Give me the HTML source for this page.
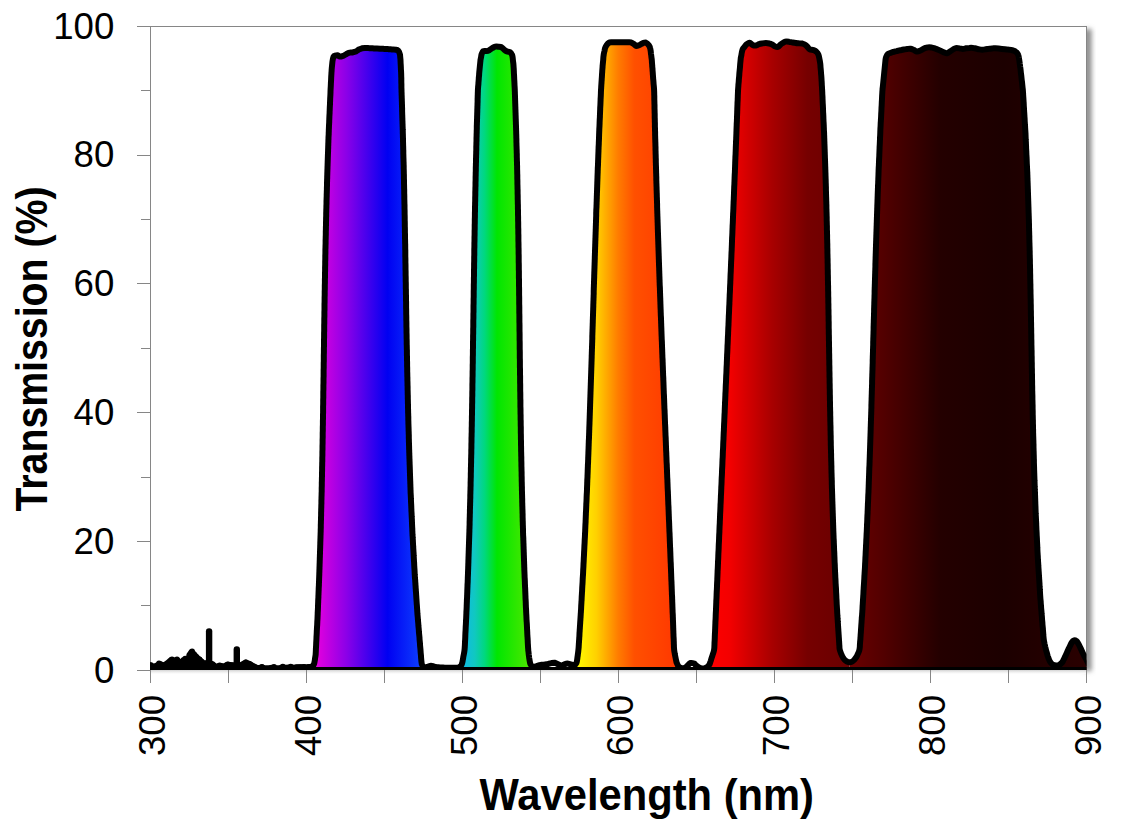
<!DOCTYPE html>
<html><head><meta charset="utf-8"><style>
html,body{margin:0;padding:0;background:#fff;}
svg{display:block;}
text{font-family:"Liberation Sans",sans-serif;}
</style></head><body>
<svg width="1136" height="825" viewBox="0 0 1136 825">
<defs>

<linearGradient id="g1" gradientUnits="userSpaceOnUse" x1="313" y1="0" x2="426" y2="0">
 <stop offset="0" stop-color="#ee00dc"/><stop offset="0.3" stop-color="#8a00e8"/><stop offset="0.66" stop-color="#0000f2"/><stop offset="1" stop-color="#1048ff"/></linearGradient>
<linearGradient id="g2" gradientUnits="userSpaceOnUse" x1="460" y1="0" x2="534" y2="0">
 <stop offset="0" stop-color="#10b8f0"/><stop offset="0.2" stop-color="#10c8c0"/><stop offset="0.33" stop-color="#00d880"/><stop offset="0.5" stop-color="#00e600"/><stop offset="1" stop-color="#58e800"/></linearGradient>
<linearGradient id="g3" gradientUnits="userSpaceOnUse" x1="575" y1="0" x2="683" y2="0">
 <stop offset="0" stop-color="#ffff00"/><stop offset="0.2" stop-color="#ffd000"/><stop offset="0.4" stop-color="#ff7c00"/><stop offset="0.55" stop-color="#ff5000"/><stop offset="1" stop-color="#ff3400"/></linearGradient>
<linearGradient id="g4" gradientUnits="userSpaceOnUse" x1="708" y1="0" x2="850" y2="0">
 <stop offset="0" stop-color="#ff0000"/><stop offset="0.15" stop-color="#f40000"/><stop offset="0.45" stop-color="#a80000"/><stop offset="0.7" stop-color="#760000"/><stop offset="1" stop-color="#680000"/></linearGradient>
<linearGradient id="g5" gradientUnits="userSpaceOnUse" x1="850" y1="0" x2="1086" y2="0">
 <stop offset="0" stop-color="#6a0000"/><stop offset="0.12" stop-color="#560000"/><stop offset="0.38" stop-color="#240000"/><stop offset="0.65" stop-color="#1c0000"/><stop offset="1" stop-color="#2a0000"/></linearGradient>

<linearGradient id="bsh" x1="0" y1="0" x2="0" y2="1"><stop offset="0" stop-color="#d4d4d4"/><stop offset="0.5" stop-color="#eeeeee"/><stop offset="1" stop-color="#ffffff"/></linearGradient>
<clipPath id="pa"><rect x="150" y="26" width="936.5" height="644"/></clipPath>
<filter id="sh" x="-50%" y="-5%" width="200%" height="110%"><feGaussianBlur stdDeviation="2.9"/></filter>
</defs>
<rect x="0" y="0" width="1136" height="825" fill="#fff"/>
<rect x="1083.5" y="29" width="8" height="642" fill="#8a8a8a" filter="url(#sh)"/>
<rect x="150" y="26" width="936.5" height="644" fill="#fff"/>
<rect x="150.5" y="26.5" width="936" height="643" fill="none" stroke="#868686" stroke-width="1"/>
<g clip-path="url(#pa)">
<polygon points="313.0,670.0 314.2,664.0 315.6,655.0 317.7,614.6 319.3,574.3 320.6,533.9 321.6,493.6 322.4,453.2 323.1,412.9 323.6,372.5 324.1,332.1 324.7,291.8 325.4,251.4 326.3,211.1 327.4,170.7 328.8,130.4 330.6,90.0 331.6,70.0 332.5,61.0 333.5,56.0 335.5,54.2 340.0,57.0 344.0,55.5 349.6,52.2 353.5,52.8 357.0,51.0 360.0,48.5 366.0,48.0 373.0,48.3 383.0,48.8 392.0,49.4 397.5,49.8 399.6,52.0 400.5,60.0 401.2,75.0 401.5,90.0 402.8,130.4 403.8,170.7 404.6,211.1 405.3,251.4 405.9,291.8 406.5,332.1 407.3,372.5 408.1,412.9 409.3,453.2 410.7,493.6 412.5,533.9 414.7,574.3 417.5,614.6 420.9,655.0 421.5,663.0 422.8,667.2 426.0,667.5 426.0,670.0" fill="url(#g1)"/>
<polygon points="460.0,670.0 461.8,665.0 462.8,660.0 464.6,650.0 466.5,610.0 468.1,570.0 469.4,530.0 470.5,490.0 471.3,450.0 472.0,410.0 472.7,370.0 473.2,330.0 473.8,290.0 474.3,250.0 475.0,210.0 475.8,170.0 476.7,130.0 477.9,90.0 479.3,72.0 480.5,60.0 481.6,54.0 483.0,50.5 487.5,51.4 491.0,49.0 495.0,46.3 501.7,47.0 505.7,51.4 510.5,51.8 512.3,55.0 513.5,65.0 514.2,78.0 514.8,90.0 516.1,130.0 517.2,170.0 518.0,210.0 518.6,250.0 519.1,290.0 519.5,330.0 520.0,370.0 520.5,410.0 521.1,450.0 521.9,490.0 523.0,530.0 524.3,570.0 526.1,610.0 528.2,650.0 529.5,660.0 530.5,665.0 533.0,667.5 534.0,670.0" fill="url(#g2)"/>
<polygon points="575.0,670.0 576.8,662.0 577.8,655.0 578.5,650.0 581.0,610.0 583.2,570.0 585.2,530.0 587.0,490.0 588.5,450.0 589.9,410.0 591.3,370.0 592.5,330.0 593.8,290.0 595.0,250.0 596.3,210.0 597.8,170.0 599.3,130.0 601.0,90.0 602.3,70.0 603.6,55.0 605.3,47.0 608.5,42.5 614.0,42.2 620.7,42.2 631.8,42.2 634.0,44.0 636.9,46.9 640.0,44.5 645.0,42.2 648.0,43.5 650.3,48.0 651.8,60.0 652.9,75.0 654.1,90.0 655.0,130.0 656.1,170.0 657.2,210.0 658.5,250.0 659.9,290.0 661.4,330.0 662.9,370.0 664.5,410.0 666.1,450.0 667.8,490.0 669.4,530.0 671.0,570.0 672.6,610.0 674.1,650.0 676.0,660.0 677.3,665.0 680.0,668.0 680.0,670.0" fill="url(#g3)"/>
<polygon points="709.0,670.0 709.0,666.0 711.0,660.0 714.2,650.0 716.0,610.0 717.7,570.0 719.4,530.0 721.2,490.0 723.0,450.0 724.7,410.0 726.5,370.0 728.2,330.0 730.0,290.0 731.7,250.0 733.3,210.0 734.9,170.0 736.5,130.0 738.0,90.0 739.5,72.0 740.8,58.0 742.5,49.0 748.7,42.0 754.5,46.3 759.0,44.0 764.7,43.0 770.5,43.5 777.3,47.8 781.0,44.0 786.0,41.2 794.7,43.0 803.4,43.5 807.0,46.0 809.5,49.8 815.5,50.3 818.6,54.5 820.2,63.0 821.3,76.0 822.1,90.0 823.9,130.0 825.4,170.0 826.5,210.0 827.4,250.0 828.1,290.0 828.8,330.0 829.4,370.0 830.1,410.0 830.9,450.0 832.0,490.0 833.3,530.0 835.0,570.0 837.1,610.0 839.6,650.0 842.5,657.0 846.0,661.5 849.6,662.5 849.6,670.0" fill="url(#g4)"/>
<polygon points="849.6,670.0 849.6,662.5 853.0,661.5 856.5,657.0 859.6,650.0 862.4,610.0 864.8,570.0 866.8,530.0 868.5,490.0 870.0,450.0 871.3,410.0 872.5,370.0 873.6,330.0 874.7,290.0 875.8,250.0 877.2,210.0 878.6,170.0 880.4,130.0 882.4,90.0 884.3,72.0 885.5,60.0 886.5,55.0 888.0,53.7 893.0,52.0 899.2,50.5 904.0,49.5 910.4,48.5 914.0,50.0 917.9,52.2 922.0,49.5 927.6,47.0 932.0,47.5 937.3,49.2 942.0,51.5 947.1,53.7 952.0,50.0 956.8,47.5 962.8,49.2 967.0,48.0 971.8,47.7 976.0,48.5 981.5,50.0 987.0,49.0 994.2,48.2 1003.0,49.0 1012.0,50.0 1016.0,51.5 1018.5,55.0 1020.0,65.0 1022.9,90.0 1025.4,132.3 1027.3,174.6 1028.8,216.9 1029.9,259.2 1030.7,301.5 1031.4,343.8 1032.2,386.2 1033.0,428.5 1034.2,470.8 1035.7,513.1 1037.7,555.4 1040.3,597.7 1043.7,640.0 1046.0,650.0 1048.0,657.0 1050.0,662.0 1053.0,665.2 1057.0,665.6 1061.0,664.5 1064.0,659.0 1069.0,648.0 1072.5,641.0 1074.5,639.7 1077.0,641.0 1080.0,647.0 1083.0,653.5 1086.0,659.0 1090.0,667.0 1090.0,670.0" fill="url(#g5)"/>
<polygon points="148.0,672.0 150.0,665.2 152.5,666.5 155.6,667.7 157.5,664.5 159.0,663.3 161.0,664.5 163.1,665.8 166.9,664.0 170.0,660.5 172.0,659.5 174.5,660.8 177.0,659.5 179.0,661.5 179.8,663.3 180.8,668.4 181.6,663.0 182.3,660.8 185.2,658.6 188.3,660.8 189.6,653.9 192.1,651.4 195.0,655.8 198.4,658.9 201.6,661.4 202.8,664.9 204.7,663.3 206.5,663.0 211.5,663.0 213.2,665.0 216.3,668.7 218.0,666.0 219.7,665.3 221.5,666.0 223.7,667.2 226.0,665.0 228.0,664.4 230.0,664.8 232.3,665.7 234.0,665.0 239.5,665.0 241.6,665.7 244.0,663.0 245.9,662.3 248.0,663.0 250.2,664.4 254.5,666.6 257.0,668.7 259.5,667.5 261.9,667.2 264.0,668.0 266.2,668.7 270.0,668.0 273.6,667.5 276.0,668.3 278.5,668.7 281.0,667.2 285.0,667.8 290.0,667.3 295.0,667.7 300.0,667.2 305.0,667.5 310.0,667.0 313.0,666.5 313.0,672.0" fill="#000"/><polyline points="150.3,665.4 153.5,666.9 156.9,665.6 160.0,663.9 163.1,665.5 165.9,664.4 168.5,662.2 171.0,660.0 174.5,660.4 178.0,660.6 179.6,663.1 180.4,666.4 181.7,663.0 183.3,660.1 186.2,659.4 188.9,657.8 189.4,654.9 191.3,652.3 193.8,654.0 195.9,656.6 198.4,658.9 200.8,660.8 202.4,663.7 206.3,663.1 209.5,663.0 212.3,664.0 214.7,666.8 218.3,666.1 221.3,666.0 224.5,666.4 227.0,664.7 230.0,664.9 233.8,665.2 237.3,665.0 240.5,665.3 243.2,663.9 245.9,662.5 249.1,663.7 252.3,665.5 255.3,667.3 258.3,668.1 261.9,667.4 265.1,668.3 268.7,668.2 272.4,667.7 276.0,668.2 279.7,667.9 283.0,667.5 286.0,667.7 289.0,667.4 292.0,667.5 295.0,667.7 298.0,667.4 301.0,667.3 304.0,667.4 307.0,667.3 310.0,667.0 312.7,666.5" fill="none" stroke="#000" stroke-width="6" stroke-linejoin="round" stroke-linecap="round"/>
<g stroke="#000" stroke-width="6.4" stroke-linecap="round"><line x1="209.1" y1="664" x2="209.1" y2="631.4"/><line x1="236.8" y1="664" x2="236.8" y2="649.5"/></g><g stroke="#000" stroke-width="5.8" stroke-linecap="round"><line x1="151.0" y1="667" x2="151.0" y2="665.2"/><line x1="159.0" y1="667" x2="159.0" y2="663.3"/><line x1="163.5" y1="667" x2="163.5" y2="665.5"/><line x1="167.0" y1="667" x2="167.0" y2="664.0"/><line x1="172.0" y1="667" x2="172.0" y2="659.5"/><line x1="177.0" y1="667" x2="177.0" y2="659.5"/><line x1="185.2" y1="667" x2="185.2" y2="658.6"/><line x1="192.1" y1="667" x2="192.1" y2="651.4"/><line x1="196.5" y1="667" x2="196.5" y2="657.0"/><line x1="199.5" y1="667" x2="199.5" y2="659.5"/><line x1="202.0" y1="667" x2="202.0" y2="662.0"/><line x1="205.0" y1="667" x2="205.0" y2="663.3"/><line x1="213.2" y1="667" x2="213.2" y2="665.0"/><line x1="219.7" y1="667" x2="219.7" y2="665.3"/><line x1="224.0" y1="667" x2="224.0" y2="667.0"/><line x1="228.0" y1="667" x2="228.0" y2="664.4"/><line x1="232.0" y1="667" x2="232.0" y2="665.7"/><line x1="241.6" y1="667" x2="241.6" y2="665.7"/><line x1="245.9" y1="667" x2="245.9" y2="662.3"/><line x1="250.2" y1="667" x2="250.2" y2="664.4"/><line x1="254.5" y1="667" x2="254.5" y2="666.6"/><line x1="261.9" y1="667" x2="261.9" y2="667.2"/><line x1="274.0" y1="667" x2="274.0" y2="667.4"/><line x1="282.8" y1="667" x2="282.8" y2="666.7"/><line x1="290.7" y1="667" x2="290.7" y2="666.7"/><line x1="303.9" y1="667" x2="303.9" y2="667.4"/><line x1="309.2" y1="667" x2="309.2" y2="667.0"/></g>
<path d="M296.4,667.2C297.0,667.2 298.9,667.3 300.0,667.3C301.1,667.4 302.0,667.4 303.0,667.4C304.0,667.5 305.0,667.5 306.1,667.5C307.1,667.5 308.3,667.6 309.3,667.5C310.3,667.4 311.5,667.5 312.3,667.0C313.1,666.4 313.6,665.1 314.0,664.1C314.4,663.1 314.5,662.0 314.7,661.0C314.9,660.0 315.0,659.0 315.1,658.0C315.3,657.0 315.5,656.0 315.6,655.0C315.7,654.0 315.7,653.0 315.8,652.0C315.8,651.0 315.9,650.0 315.9,648.9C316.0,647.9 316.0,646.9 316.1,645.9C316.1,644.9 316.2,643.9 316.2,642.9C316.3,641.9 316.3,640.9 316.4,639.9C316.4,638.9 316.5,637.8 316.5,636.8C316.6,635.8 316.6,634.8 316.7,633.8C316.7,632.8 316.8,631.8 316.8,630.8C316.9,629.8 316.9,628.8 317.0,627.8C317.0,626.7 317.1,625.7 317.2,624.7C317.2,623.7 317.3,622.7 317.3,621.7C317.4,620.7 317.4,619.7 317.5,618.7C317.5,617.7 317.6,616.7 317.6,615.7C317.7,614.6 317.7,613.6 317.7,612.6C317.8,611.6 317.8,610.6 317.9,609.6C317.9,608.6 318.0,607.6 318.0,606.6C318.0,605.6 318.1,604.6 318.1,603.5C318.2,602.5 318.2,601.5 318.2,600.5C318.3,599.5 318.3,598.5 318.4,597.5C318.4,596.5 318.4,595.5 318.5,594.5C318.5,593.5 318.6,592.4 318.6,591.4C318.7,590.4 318.7,589.4 318.7,588.4C318.8,587.4 318.8,586.4 318.9,585.4C318.9,584.4 318.9,583.4 319.0,582.4C319.0,581.3 319.1,580.3 319.1,579.3C319.1,578.3 319.2,577.3 319.2,576.3C319.3,575.3 319.3,574.3 319.3,573.3C319.4,572.3 319.4,571.3 319.4,570.2C319.5,569.2 319.5,568.2 319.5,567.2C319.6,566.2 319.6,565.2 319.6,564.2C319.7,563.2 319.7,562.2 319.7,561.2C319.8,560.2 319.8,559.2 319.8,558.1C319.9,557.1 319.9,556.1 319.9,555.1C320.0,554.1 320.0,553.1 320.0,552.1C320.1,551.1 320.1,550.1 320.1,549.1C320.2,548.1 320.2,547.0 320.2,546.0C320.3,545.0 320.3,544.0 320.3,543.0C320.3,542.0 320.4,541.0 320.4,540.0C320.4,539.0 320.5,538.0 320.5,537.0C320.5,535.9 320.6,534.9 320.6,533.9C320.6,532.9 320.7,531.9 320.7,530.9C320.7,529.9 320.7,528.9 320.8,527.9C320.8,526.9 320.8,525.9 320.8,524.8C320.9,523.8 320.9,522.8 320.9,521.8C320.9,520.8 321.0,519.8 321.0,518.8C321.0,517.8 321.0,516.8 321.1,515.8C321.1,514.8 321.1,513.7 321.1,512.7C321.2,511.7 321.2,510.7 321.2,509.7C321.2,508.7 321.3,507.7 321.3,506.7C321.3,505.7 321.3,504.7 321.4,503.7C321.4,502.7 321.4,501.6 321.4,500.6C321.5,499.6 321.5,498.6 321.5,497.6C321.5,496.6 321.6,495.6 321.6,494.6C321.6,493.6 321.6,492.6 321.7,491.6C321.7,490.5 321.7,489.5 321.7,488.5C321.7,487.5 321.8,486.5 321.8,485.5C321.8,484.5 321.8,483.5 321.8,482.5C321.9,481.5 321.9,480.5 321.9,479.4C321.9,478.4 321.9,477.4 322.0,476.4C322.0,475.4 322.0,474.4 322.0,473.4C322.0,472.4 322.1,471.4 322.1,470.4C322.1,469.4 322.1,468.3 322.1,467.3C322.2,466.3 322.2,465.3 322.2,464.3C322.2,463.3 322.2,462.3 322.3,461.3C322.3,460.3 322.3,459.3 322.3,458.3C322.3,457.2 322.4,456.2 322.4,455.2C322.4,454.2 322.4,453.2 322.4,452.2C322.4,451.2 322.5,450.2 322.5,449.2C322.5,448.2 322.5,447.2 322.5,446.2C322.5,445.1 322.6,444.1 322.6,443.1C322.6,442.1 322.6,441.1 322.6,440.1C322.6,439.1 322.7,438.1 322.7,437.1C322.7,436.1 322.7,435.1 322.7,434.0C322.7,433.0 322.7,432.0 322.8,431.0C322.8,430.0 322.8,429.0 322.8,428.0C322.8,427.0 322.8,426.0 322.9,425.0C322.9,424.0 322.9,422.9 322.9,421.9C322.9,420.9 322.9,419.9 323.0,418.9C323.0,417.9 323.0,416.9 323.0,415.9C323.0,414.9 323.0,413.9 323.1,412.9C323.1,411.8 323.1,410.8 323.1,409.8C323.1,408.8 323.1,407.8 323.1,406.8C323.1,405.8 323.2,404.8 323.2,403.8C323.2,402.8 323.2,401.8 323.2,400.8C323.2,399.7 323.2,398.7 323.3,397.7C323.3,396.7 323.3,395.7 323.3,394.7C323.3,393.7 323.3,392.7 323.3,391.7C323.4,390.7 323.4,389.7 323.4,388.6C323.4,387.6 323.4,386.6 323.4,385.6C323.4,384.6 323.5,383.6 323.5,382.6C323.5,381.6 323.5,380.6 323.5,379.6C323.5,378.6 323.5,377.5 323.6,376.5C323.6,375.5 323.6,374.5 323.6,373.5C323.6,372.5 323.6,371.5 323.6,370.5C323.6,369.5 323.7,368.5 323.7,367.5C323.7,366.4 323.7,365.4 323.7,364.4C323.7,363.4 323.7,362.4 323.8,361.4C323.8,360.4 323.8,359.4 323.8,358.4C323.8,357.4 323.8,356.4 323.8,355.3C323.8,354.3 323.9,353.3 323.9,352.3C323.9,351.3 323.9,350.3 323.9,349.3C323.9,348.3 323.9,347.3 324.0,346.3C324.0,345.3 324.0,344.2 324.0,343.2C324.0,342.2 324.0,341.2 324.0,340.2C324.0,339.2 324.1,338.2 324.1,337.2C324.1,336.2 324.1,335.2 324.1,334.2C324.1,333.2 324.1,332.1 324.2,331.1C324.2,330.1 324.2,329.1 324.2,328.1C324.2,327.1 324.2,326.1 324.2,325.1C324.3,324.1 324.3,323.1 324.3,322.1C324.3,321.0 324.3,320.0 324.3,319.0C324.3,318.0 324.4,317.0 324.4,316.0C324.4,315.0 324.4,314.0 324.4,313.0C324.4,312.0 324.4,311.0 324.5,309.9C324.5,308.9 324.5,307.9 324.5,306.9C324.5,305.9 324.5,304.9 324.5,303.9C324.6,302.9 324.6,301.9 324.6,300.9C324.6,299.9 324.6,298.8 324.6,297.8C324.6,296.8 324.7,295.8 324.7,294.8C324.7,293.8 324.7,292.8 324.7,291.8C324.7,290.8 324.8,289.8 324.8,288.8C324.8,287.8 324.8,286.7 324.8,285.7C324.8,284.7 324.9,283.7 324.9,282.7C324.9,281.7 324.9,280.7 324.9,279.7C324.9,278.7 325.0,277.7 325.0,276.7C325.0,275.6 325.0,274.6 325.0,273.6C325.0,272.6 325.1,271.6 325.1,270.6C325.1,269.6 325.1,268.6 325.1,267.6C325.1,266.6 325.2,265.6 325.2,264.5C325.2,263.5 325.2,262.5 325.2,261.5C325.3,260.5 325.3,259.5 325.3,258.5C325.3,257.5 325.3,256.5 325.3,255.5C325.4,254.5 325.4,253.4 325.4,252.4C325.4,251.4 325.4,250.4 325.4,249.4C325.5,248.4 325.5,247.4 325.5,246.4C325.5,245.4 325.6,244.4 325.6,243.4C325.6,242.3 325.6,241.3 325.6,240.3C325.7,239.3 325.7,238.3 325.7,237.3C325.7,236.3 325.8,235.3 325.8,234.3C325.8,233.3 325.8,232.3 325.8,231.2C325.9,230.2 325.9,229.2 325.9,228.2C325.9,227.2 325.9,226.2 326.0,225.2C326.0,224.2 326.0,223.2 326.0,222.2C326.1,221.2 326.1,220.2 326.1,219.1C326.1,218.1 326.1,217.1 326.2,216.1C326.2,215.1 326.2,214.1 326.2,213.1C326.3,212.1 326.3,211.1 326.3,210.1C326.3,209.1 326.4,208.0 326.4,207.0C326.4,206.0 326.4,205.0 326.5,204.0C326.5,203.0 326.5,202.0 326.5,201.0C326.6,200.0 326.6,199.0 326.6,198.0C326.7,196.9 326.7,195.9 326.7,194.9C326.7,193.9 326.8,192.9 326.8,191.9C326.8,190.9 326.9,189.9 326.9,188.9C326.9,187.9 326.9,186.9 327.0,185.8C327.0,184.8 327.0,183.8 327.0,182.8C327.1,181.8 327.1,180.8 327.1,179.8C327.2,178.8 327.2,177.8 327.2,176.8C327.2,175.8 327.3,174.8 327.3,173.7C327.3,172.7 327.4,171.7 327.4,170.7C327.4,169.7 327.5,168.7 327.5,167.7C327.5,166.7 327.6,165.7 327.6,164.7C327.6,163.7 327.7,162.6 327.7,161.6C327.7,160.6 327.8,159.6 327.8,158.6C327.8,157.6 327.9,156.6 327.9,155.6C327.9,154.6 328.0,153.6 328.0,152.6C328.1,151.5 328.1,150.5 328.1,149.5C328.2,148.5 328.2,147.5 328.2,146.5C328.3,145.5 328.3,144.5 328.3,143.5C328.4,142.5 328.4,141.5 328.4,140.4C328.5,139.4 328.5,138.4 328.5,137.4C328.6,136.4 328.6,135.4 328.7,134.4C328.7,133.4 328.7,132.4 328.8,131.4C328.8,130.4 328.8,129.3 328.9,128.3C328.9,127.3 329.0,126.3 329.0,125.3C329.1,124.3 329.1,123.3 329.2,122.3C329.2,121.3 329.2,120.3 329.3,119.3C329.3,118.3 329.4,117.2 329.4,116.2C329.5,115.2 329.5,114.2 329.6,113.2C329.6,112.2 329.6,111.2 329.7,110.2C329.7,109.2 329.8,108.2 329.8,107.2C329.9,106.1 329.9,105.1 330.0,104.1C330.0,103.1 330.0,102.1 330.1,101.1C330.1,100.1 330.2,99.1 330.2,98.1C330.3,97.1 330.3,96.1 330.4,95.0C330.4,94.0 330.5,93.0 330.5,92.0C330.5,91.0 330.6,90.0 330.6,89.0C330.7,88.0 330.7,87.0 330.8,86.0C330.8,85.0 330.9,84.0 330.9,83.0C331.0,82.0 331.0,81.0 331.1,80.0C331.1,79.0 331.2,78.0 331.2,77.0C331.3,76.0 331.3,75.0 331.4,74.0C331.4,73.0 331.5,72.0 331.6,71.0C331.6,70.0 331.7,69.0 331.8,68.0C331.9,67.0 332.0,66.0 332.1,65.0C332.2,64.0 332.3,63.0 332.4,62.0C332.5,61.0 332.7,60.0 332.9,59.0C333.1,58.0 333.1,56.7 333.9,56.1C334.6,55.5 336.3,55.3 337.3,55.3C338.3,55.4 339.1,56.5 340.0,56.6C341.0,56.7 342.0,56.2 343.0,55.9C344.0,55.5 344.9,54.9 345.9,54.4C346.8,53.9 347.7,53.1 348.7,52.8C349.8,52.5 351.0,52.7 352.2,52.5C353.4,52.3 354.7,52.1 355.8,51.6C356.9,51.0 358.0,50.0 359.0,49.4C360.0,48.9 361.0,48.6 362.0,48.3C363.0,48.1 364.0,48.1 365.0,48.1C366.0,48.1 367.0,48.1 368.0,48.1C369.0,48.1 370.0,48.2 371.0,48.2C372.0,48.3 373.0,48.3 374.0,48.4C375.0,48.4 376.0,48.5 377.0,48.5C378.0,48.5 379.0,48.6 380.0,48.7C381.0,48.7 382.0,48.7 383.0,48.8C384.0,48.9 385.0,48.9 386.0,49.0C387.0,49.1 388.0,49.1 389.0,49.2C390.0,49.3 391.0,49.3 392.0,49.4C393.1,49.5 394.3,49.4 395.3,49.7C396.3,49.9 397.4,49.9 398.1,50.6C398.9,51.3 399.5,52.9 399.8,54.0C400.2,55.1 400.1,56.0 400.2,57.0C400.3,58.0 400.4,59.0 400.5,60.0C400.5,61.0 400.6,62.0 400.6,63.0C400.7,64.0 400.7,65.0 400.8,66.0C400.8,67.0 400.9,68.0 400.9,69.0C401.0,70.0 401.0,71.0 401.1,72.0C401.1,73.0 401.2,74.0 401.2,75.0C401.2,76.0 401.2,77.0 401.3,78.0C401.3,79.0 401.3,80.0 401.3,81.0C401.3,82.0 401.3,83.0 401.4,84.0C401.4,85.0 401.4,86.0 401.4,87.0C401.4,88.0 401.5,89.0 401.5,90.0C401.5,91.0 401.5,92.0 401.6,93.0C401.6,94.0 401.6,95.0 401.7,96.1C401.7,97.1 401.7,98.1 401.8,99.1C401.8,100.1 401.8,101.1 401.9,102.1C401.9,103.1 401.9,104.1 402.0,105.1C402.0,106.1 402.0,107.2 402.1,108.2C402.1,109.2 402.1,110.2 402.1,111.2C402.2,112.2 402.2,113.2 402.2,114.2C402.3,115.2 402.3,116.2 402.3,117.2C402.4,118.3 402.4,119.3 402.4,120.3C402.5,121.3 402.5,122.3 402.5,123.3C402.6,124.3 402.6,125.3 402.6,126.3C402.7,127.3 402.7,128.3 402.7,129.3C402.8,130.4 402.8,131.4 402.8,132.4C402.8,133.4 402.9,134.4 402.9,135.4C402.9,136.4 402.9,137.4 403.0,138.4C403.0,139.4 403.0,140.4 403.0,141.5C403.1,142.5 403.1,143.5 403.1,144.5C403.1,145.5 403.2,146.5 403.2,147.5C403.2,148.5 403.2,149.5 403.3,150.5C403.3,151.5 403.3,152.6 403.3,153.6C403.4,154.6 403.4,155.6 403.4,156.6C403.4,157.6 403.5,158.6 403.5,159.6C403.5,160.6 403.5,161.6 403.6,162.6C403.6,163.7 403.6,164.7 403.7,165.7C403.7,166.7 403.7,167.7 403.7,168.7C403.8,169.7 403.8,170.7 403.8,171.7C403.8,172.7 403.8,173.7 403.9,174.8C403.9,175.8 403.9,176.8 403.9,177.8C403.9,178.8 404.0,179.8 404.0,180.8C404.0,181.8 404.0,182.8 404.0,183.8C404.1,184.8 404.1,185.8 404.1,186.9C404.1,187.9 404.1,188.9 404.2,189.9C404.2,190.9 404.2,191.9 404.2,192.9C404.2,193.9 404.3,194.9 404.3,195.9C404.3,196.9 404.3,198.0 404.3,199.0C404.4,200.0 404.4,201.0 404.4,202.0C404.4,203.0 404.4,204.0 404.5,205.0C404.5,206.0 404.5,207.0 404.5,208.0C404.5,209.1 404.6,210.1 404.6,211.1C404.6,212.1 404.6,213.1 404.6,214.1C404.7,215.1 404.7,216.1 404.7,217.1C404.7,218.1 404.7,219.1 404.7,220.2C404.8,221.2 404.8,222.2 404.8,223.2C404.8,224.2 404.8,225.2 404.8,226.2C404.9,227.2 404.9,228.2 404.9,229.2C404.9,230.2 404.9,231.2 404.9,232.3C405.0,233.3 405.0,234.3 405.0,235.3C405.0,236.3 405.0,237.3 405.0,238.3C405.1,239.3 405.1,240.3 405.1,241.3C405.1,242.3 405.1,243.4 405.2,244.4C405.2,245.4 405.2,246.4 405.2,247.4C405.2,248.4 405.2,249.4 405.3,250.4C405.3,251.4 405.3,252.4 405.3,253.4C405.3,254.5 405.3,255.5 405.3,256.5C405.4,257.5 405.4,258.5 405.4,259.5C405.4,260.5 405.4,261.5 405.4,262.5C405.5,263.5 405.5,264.5 405.5,265.6C405.5,266.6 405.5,267.6 405.5,268.6C405.5,269.6 405.6,270.6 405.6,271.6C405.6,272.6 405.6,273.6 405.6,274.6C405.6,275.6 405.7,276.7 405.7,277.7C405.7,278.7 405.7,279.7 405.7,280.7C405.7,281.7 405.8,282.7 405.8,283.7C405.8,284.7 405.8,285.7 405.8,286.7C405.8,287.7 405.8,288.8 405.9,289.8C405.9,290.8 405.9,291.8 405.9,292.8C405.9,293.8 405.9,294.8 406.0,295.8C406.0,296.8 406.0,297.8 406.0,298.8C406.0,299.9 406.0,300.9 406.1,301.9C406.1,302.9 406.1,303.9 406.1,304.9C406.1,305.9 406.1,306.9 406.1,307.9C406.2,308.9 406.2,309.9 406.2,311.0C406.2,312.0 406.2,313.0 406.2,314.0C406.3,315.0 406.3,316.0 406.3,317.0C406.3,318.0 406.3,319.0 406.3,320.0C406.4,321.0 406.4,322.1 406.4,323.1C406.4,324.1 406.4,325.1 406.4,326.1C406.4,327.1 406.5,328.1 406.5,329.1C406.5,330.1 406.5,331.1 406.5,332.1C406.5,333.2 406.6,334.2 406.6,335.2C406.6,336.2 406.6,337.2 406.6,338.2C406.7,339.2 406.7,340.2 406.7,341.2C406.7,342.2 406.7,343.2 406.7,344.2C406.8,345.3 406.8,346.3 406.8,347.3C406.8,348.3 406.8,349.3 406.9,350.3C406.9,351.3 406.9,352.3 406.9,353.3C406.9,354.3 406.9,355.3 407.0,356.4C407.0,357.4 407.0,358.4 407.0,359.4C407.0,360.4 407.1,361.4 407.1,362.4C407.1,363.4 407.1,364.4 407.1,365.4C407.1,366.4 407.2,367.5 407.2,368.5C407.2,369.5 407.2,370.5 407.2,371.5C407.3,372.5 407.3,373.5 407.3,374.5C407.3,375.5 407.3,376.5 407.4,377.5C407.4,378.6 407.4,379.6 407.4,380.6C407.5,381.6 407.5,382.6 407.5,383.6C407.5,384.6 407.5,385.6 407.6,386.6C407.6,387.6 407.6,388.6 407.6,389.7C407.7,390.7 407.7,391.7 407.7,392.7C407.7,393.7 407.7,394.7 407.8,395.7C407.8,396.7 407.8,397.7 407.8,398.7C407.9,399.7 407.9,400.7 407.9,401.8C407.9,402.8 407.9,403.8 408.0,404.8C408.0,405.8 408.0,406.8 408.0,407.8C408.1,408.8 408.1,409.8 408.1,410.8C408.1,411.8 408.1,412.9 408.2,413.9C408.2,414.9 408.2,415.9 408.3,416.9C408.3,417.9 408.3,418.9 408.3,419.9C408.4,420.9 408.4,421.9 408.4,422.9C408.4,424.0 408.5,425.0 408.5,426.0C408.5,427.0 408.6,428.0 408.6,429.0C408.6,430.0 408.6,431.0 408.7,432.0C408.7,433.0 408.7,434.0 408.8,435.1C408.8,436.1 408.8,437.1 408.8,438.1C408.9,439.1 408.9,440.1 408.9,441.1C408.9,442.1 409.0,443.1 409.0,444.1C409.0,445.1 409.1,446.2 409.1,447.2C409.1,448.2 409.1,449.2 409.2,450.2C409.2,451.2 409.2,452.2 409.3,453.2C409.3,454.2 409.3,455.2 409.4,456.2C409.4,457.2 409.4,458.3 409.5,459.3C409.5,460.3 409.5,461.3 409.6,462.3C409.6,463.3 409.6,464.3 409.7,465.3C409.7,466.3 409.8,467.3 409.8,468.3C409.8,469.4 409.9,470.4 409.9,471.4C409.9,472.4 410.0,473.4 410.0,474.4C410.0,475.4 410.1,476.4 410.1,477.4C410.1,478.4 410.2,479.4 410.2,480.5C410.3,481.5 410.3,482.5 410.3,483.5C410.4,484.5 410.4,485.5 410.4,486.5C410.5,487.5 410.5,488.5 410.5,489.5C410.6,490.5 410.6,491.6 410.6,492.6C410.7,493.6 410.7,494.6 410.8,495.6C410.8,496.6 410.9,497.6 410.9,498.6C411.0,499.6 411.0,500.6 411.0,501.6C411.1,502.7 411.1,503.7 411.2,504.7C411.2,505.7 411.3,506.7 411.3,507.7C411.4,508.7 411.4,509.7 411.4,510.7C411.5,511.7 411.5,512.7 411.6,513.7C411.6,514.8 411.7,515.8 411.7,516.8C411.8,517.8 411.8,518.8 411.9,519.8C411.9,520.8 411.9,521.8 412.0,522.8C412.0,523.8 412.1,524.8 412.1,525.9C412.2,526.9 412.2,527.9 412.3,528.9C412.3,529.9 412.3,530.9 412.4,531.9C412.4,532.9 412.5,533.9 412.5,534.9C412.6,535.9 412.7,537.0 412.7,538.0C412.8,539.0 412.8,540.0 412.9,541.0C412.9,542.0 413.0,543.0 413.0,544.0C413.1,545.0 413.2,546.0 413.2,547.0C413.3,548.1 413.3,549.1 413.4,550.1C413.4,551.1 413.5,552.1 413.6,553.1C413.6,554.1 413.7,555.1 413.7,556.1C413.8,557.1 413.8,558.1 413.9,559.2C413.9,560.2 414.0,561.2 414.1,562.2C414.1,563.2 414.2,564.2 414.2,565.2C414.3,566.2 414.3,567.2 414.4,568.2C414.5,569.2 414.5,570.2 414.6,571.3C414.6,572.3 414.7,573.3 414.7,574.3C414.8,575.3 414.9,576.3 414.9,577.3C415.0,578.3 415.1,579.3 415.2,580.3C415.2,581.3 415.3,582.4 415.4,583.4C415.4,584.4 415.5,585.4 415.6,586.4C415.6,587.4 415.7,588.4 415.8,589.4C415.8,590.4 415.9,591.4 416.0,592.4C416.1,593.5 416.1,594.5 416.2,595.5C416.3,596.5 416.3,597.5 416.4,598.5C416.5,599.5 416.5,600.5 416.6,601.5C416.7,602.5 416.7,603.5 416.8,604.6C416.9,605.6 417.0,606.6 417.0,607.6C417.1,608.6 417.2,609.6 417.2,610.6C417.3,611.6 417.4,612.6 417.4,613.6C417.5,614.6 417.6,615.7 417.7,616.7C417.8,617.7 417.9,618.7 417.9,619.7C418.0,620.7 418.1,621.7 418.2,622.7C418.3,623.7 418.4,624.7 418.4,625.7C418.5,626.8 418.6,627.8 418.7,628.8C418.8,629.8 418.9,630.8 418.9,631.8C419.0,632.8 419.1,633.8 419.2,634.8C419.3,635.8 419.4,636.8 419.5,637.8C419.5,638.9 419.6,639.9 419.7,640.9C419.8,641.9 419.9,642.9 420.0,643.9C420.0,644.9 420.1,645.9 420.2,646.9C420.3,647.9 420.4,648.9 420.5,650.0C420.6,651.0 420.6,652.0 420.7,653.0C420.8,654.0 420.9,655.0 421.0,656.0C421.0,657.0 421.1,658.0 421.2,659.0C421.3,660.0 421.3,661.0 421.5,662.0C421.6,663.0 421.6,664.2 422.2,665.1C422.7,666.0 424.0,667.1 424.9,667.3C425.9,667.6 427.0,666.9 428.0,666.6C429.0,666.3 430.0,665.7 431.0,665.7C432.0,665.7 433.0,666.3 434.0,666.5C435.0,666.8 436.0,667.0 437.0,667.2C438.0,667.3 439.0,667.3 440.0,667.4C441.0,667.5 442.0,667.6 443.0,667.6C444.0,667.7 445.0,667.8 446.0,667.8C447.0,667.8 448.0,667.8 449.0,667.8C450.0,667.8 451.0,667.8 452.0,667.8C453.0,667.8 454.0,667.8 455.1,667.8C456.1,667.7 457.3,667.8 458.3,667.5C459.3,667.2 460.3,666.5 461.0,665.8C461.6,665.1 461.9,664.0 462.2,663.0C462.5,662.0 462.6,661.0 462.8,660.0C463.0,659.0 463.2,658.0 463.3,657.0C463.5,656.0 463.7,655.0 463.9,654.0C464.1,653.0 464.3,652.0 464.4,651.0C464.6,650.0 464.6,649.0 464.7,648.0C464.8,647.0 464.8,646.0 464.9,645.0C464.9,644.0 465.0,643.0 465.0,642.0C465.1,641.0 465.1,640.0 465.2,639.0C465.2,638.0 465.3,637.0 465.3,636.0C465.3,635.0 465.4,634.0 465.4,633.0C465.5,632.0 465.5,631.0 465.6,630.0C465.6,629.0 465.7,628.0 465.7,627.0C465.8,626.0 465.8,625.0 465.9,624.0C465.9,623.0 466.0,622.0 466.0,621.0C466.1,620.0 466.1,619.0 466.2,618.0C466.2,617.0 466.3,616.0 466.3,615.0C466.4,614.0 466.4,613.0 466.4,612.0C466.5,611.0 466.5,610.0 466.6,609.0C466.6,608.0 466.7,607.0 466.7,606.0C466.7,605.0 466.8,604.0 466.8,603.0C466.9,602.0 466.9,601.0 466.9,600.0C467.0,599.0 467.0,598.0 467.1,597.0C467.1,596.0 467.1,595.0 467.2,594.0C467.2,593.0 467.3,592.0 467.3,591.0C467.3,590.0 467.4,589.0 467.4,588.0C467.5,587.0 467.5,586.0 467.5,585.0C467.6,584.0 467.6,583.0 467.7,582.0C467.7,581.0 467.7,580.0 467.8,579.0C467.8,578.0 467.8,577.0 467.9,576.0C467.9,575.0 468.0,574.0 468.0,573.0C468.0,572.0 468.1,571.0 468.1,570.0C468.2,569.0 468.2,568.0 468.2,567.0C468.3,566.0 468.3,565.0 468.3,564.0C468.4,563.0 468.4,562.0 468.4,561.0C468.4,560.0 468.5,559.0 468.5,558.0C468.5,557.0 468.6,556.0 468.6,555.0C468.6,554.0 468.7,553.0 468.7,552.0C468.7,551.0 468.8,550.0 468.8,549.0C468.8,548.0 468.9,547.0 468.9,546.0C468.9,545.0 469.0,544.0 469.0,543.0C469.0,542.0 469.1,541.0 469.1,540.0C469.1,539.0 469.2,538.0 469.2,537.0C469.2,536.0 469.3,535.0 469.3,534.0C469.3,533.0 469.4,532.0 469.4,531.0C469.4,530.0 469.4,529.0 469.5,528.0C469.5,527.0 469.5,526.0 469.6,525.0C469.6,524.0 469.6,523.0 469.6,522.0C469.7,521.0 469.7,520.0 469.7,519.0C469.7,518.0 469.8,517.0 469.8,516.0C469.8,515.0 469.8,514.0 469.9,513.0C469.9,512.0 469.9,511.0 469.9,510.0C470.0,509.0 470.0,508.0 470.0,507.0C470.1,506.0 470.1,505.0 470.1,504.0C470.1,503.0 470.2,502.0 470.2,501.0C470.2,500.0 470.2,499.0 470.3,498.0C470.3,497.0 470.3,496.0 470.3,495.0C470.4,494.0 470.4,493.0 470.4,492.0C470.4,491.0 470.5,490.0 470.5,489.0C470.5,488.0 470.5,487.0 470.6,486.0C470.6,485.0 470.6,484.0 470.6,483.0C470.6,482.0 470.7,481.0 470.7,480.0C470.7,479.0 470.7,478.0 470.8,477.0C470.8,476.0 470.8,475.0 470.8,474.0C470.8,473.0 470.9,472.0 470.9,471.0C470.9,470.0 470.9,469.0 470.9,468.0C471.0,467.0 471.0,466.0 471.0,465.0C471.0,464.0 471.1,463.0 471.1,462.0C471.1,461.0 471.1,460.0 471.1,459.0C471.2,458.0 471.2,457.0 471.2,456.0C471.2,455.0 471.3,454.0 471.3,453.0C471.3,452.0 471.3,451.0 471.3,450.0C471.4,449.0 471.4,448.0 471.4,447.0C471.4,446.0 471.4,445.0 471.4,444.0C471.5,443.0 471.5,442.0 471.5,441.0C471.5,440.0 471.5,439.0 471.5,438.0C471.6,437.0 471.6,436.0 471.6,435.0C471.6,434.0 471.6,433.0 471.7,432.0C471.7,431.0 471.7,430.0 471.7,429.0C471.7,428.0 471.7,427.0 471.8,426.0C471.8,425.0 471.8,424.0 471.8,423.0C471.8,422.0 471.9,421.0 471.9,420.0C471.9,419.0 471.9,418.0 471.9,417.0C471.9,416.0 472.0,415.0 472.0,414.0C472.0,413.0 472.0,412.0 472.0,411.0C472.0,410.0 472.1,409.0 472.1,408.0C472.1,407.0 472.1,406.0 472.1,405.0C472.1,404.0 472.2,403.0 472.2,402.0C472.2,401.0 472.2,400.0 472.2,399.0C472.2,398.0 472.2,397.0 472.3,396.0C472.3,395.0 472.3,394.0 472.3,393.0C472.3,392.0 472.3,391.0 472.4,390.0C472.4,389.0 472.4,388.0 472.4,387.0C472.4,386.0 472.4,385.0 472.4,384.0C472.5,383.0 472.5,382.0 472.5,381.0C472.5,380.0 472.5,379.0 472.5,378.0C472.6,377.0 472.6,376.0 472.6,375.0C472.6,374.0 472.6,373.0 472.6,372.0C472.6,371.0 472.7,370.0 472.7,369.0C472.7,368.0 472.7,367.0 472.7,366.0C472.7,365.0 472.7,364.0 472.8,363.0C472.8,362.0 472.8,361.0 472.8,360.0C472.8,359.0 472.8,358.0 472.8,357.0C472.9,356.0 472.9,355.0 472.9,354.0C472.9,353.0 472.9,352.0 472.9,351.0C472.9,350.0 472.9,349.0 473.0,348.0C473.0,347.0 473.0,346.0 473.0,345.0C473.0,344.0 473.0,343.0 473.0,342.0C473.1,341.0 473.1,340.0 473.1,339.0C473.1,338.0 473.1,337.0 473.1,336.0C473.1,335.0 473.2,334.0 473.2,333.0C473.2,332.0 473.2,331.0 473.2,330.0C473.2,329.0 473.2,328.0 473.3,327.0C473.3,326.0 473.3,325.0 473.3,324.0C473.3,323.0 473.3,322.0 473.3,321.0C473.3,320.0 473.4,319.0 473.4,318.0C473.4,317.0 473.4,316.0 473.4,315.0C473.4,314.0 473.4,313.0 473.5,312.0C473.5,311.0 473.5,310.0 473.5,309.0C473.5,308.0 473.5,307.0 473.5,306.0C473.5,305.0 473.6,304.0 473.6,303.0C473.6,302.0 473.6,301.0 473.6,300.0C473.6,299.0 473.6,298.0 473.7,297.0C473.7,296.0 473.7,295.0 473.7,294.0C473.7,293.0 473.7,292.0 473.7,291.0C473.8,290.0 473.8,289.0 473.8,288.0C473.8,287.0 473.8,286.0 473.8,285.0C473.8,284.0 473.9,283.0 473.9,282.0C473.9,281.0 473.9,280.0 473.9,279.0C473.9,278.0 473.9,277.0 474.0,276.0C474.0,275.0 474.0,274.0 474.0,273.0C474.0,272.0 474.0,271.0 474.0,270.0C474.1,269.0 474.1,268.0 474.1,267.0C474.1,266.0 474.1,265.0 474.1,264.0C474.1,263.0 474.2,262.0 474.2,261.0C474.2,260.0 474.2,259.0 474.2,258.0C474.2,257.0 474.2,256.0 474.3,255.0C474.3,254.0 474.3,253.0 474.3,252.0C474.3,251.0 474.3,250.0 474.3,249.0C474.4,248.0 474.4,247.0 474.4,246.0C474.4,245.0 474.4,244.0 474.4,243.0C474.5,242.0 474.5,241.0 474.5,240.0C474.5,239.0 474.5,238.0 474.5,237.0C474.6,236.0 474.6,235.0 474.6,234.0C474.6,233.0 474.6,232.0 474.6,231.0C474.7,230.0 474.7,229.0 474.7,228.0C474.7,227.0 474.7,226.0 474.7,225.0C474.8,224.0 474.8,223.0 474.8,222.0C474.8,221.0 474.8,220.0 474.8,219.0C474.9,218.0 474.9,217.0 474.9,216.0C474.9,215.0 474.9,214.0 474.9,213.0C475.0,212.0 475.0,211.0 475.0,210.0C475.0,209.0 475.0,208.0 475.0,207.0C475.1,206.0 475.1,205.0 475.1,204.0C475.1,203.0 475.1,202.0 475.2,201.0C475.2,200.0 475.2,199.0 475.2,198.0C475.2,197.0 475.3,196.0 475.3,195.0C475.3,194.0 475.3,193.0 475.3,192.0C475.4,191.0 475.4,190.0 475.4,189.0C475.4,188.0 475.4,187.0 475.5,186.0C475.5,185.0 475.5,184.0 475.5,183.0C475.5,182.0 475.6,181.0 475.6,180.0C475.6,179.0 475.6,178.0 475.6,177.0C475.7,176.0 475.7,175.0 475.7,174.0C475.7,173.0 475.7,172.0 475.8,171.0C475.8,170.0 475.8,169.0 475.8,168.0C475.8,167.0 475.9,166.0 475.9,165.0C475.9,164.0 475.9,163.0 476.0,162.0C476.0,161.0 476.0,160.0 476.0,159.0C476.1,158.0 476.1,157.0 476.1,156.0C476.1,155.0 476.2,154.0 476.2,153.0C476.2,152.0 476.2,151.0 476.3,150.0C476.3,149.0 476.3,148.0 476.3,147.0C476.3,146.0 476.4,145.0 476.4,144.0C476.4,143.0 476.4,142.0 476.5,141.0C476.5,140.0 476.5,139.0 476.5,138.0C476.6,137.0 476.6,136.0 476.6,135.0C476.6,134.0 476.7,133.0 476.7,132.0C476.7,131.0 476.7,130.0 476.8,129.0C476.8,128.0 476.8,127.0 476.8,126.0C476.9,125.0 476.9,124.0 476.9,123.0C477.0,122.0 477.0,121.0 477.0,120.0C477.1,119.0 477.1,118.0 477.1,117.0C477.1,116.0 477.2,115.0 477.2,114.0C477.2,113.0 477.3,112.0 477.3,111.0C477.3,110.0 477.3,109.0 477.4,108.0C477.4,107.0 477.4,106.0 477.5,105.0C477.5,104.0 477.5,103.0 477.6,102.0C477.6,101.0 477.6,100.0 477.6,99.0C477.7,98.0 477.7,97.0 477.7,96.0C477.8,95.0 477.8,94.0 477.8,93.0C477.9,92.0 477.9,91.0 477.9,90.0C478.0,89.0 478.1,88.0 478.1,87.0C478.2,86.0 478.3,85.0 478.4,84.0C478.4,83.0 478.5,82.0 478.6,81.0C478.7,80.0 478.8,79.0 478.8,78.0C478.9,77.0 479.0,76.0 479.1,75.0C479.1,74.0 479.2,73.0 479.3,72.0C479.4,71.0 479.5,70.0 479.6,69.0C479.7,68.0 479.8,67.0 479.9,66.0C480.0,65.0 480.1,64.0 480.2,63.0C480.3,62.0 480.4,61.0 480.5,60.0C480.7,59.0 480.9,58.0 481.1,57.0C481.2,56.0 481.4,54.9 481.7,53.9C482.1,52.9 482.5,51.6 483.3,51.1C484.1,50.7 485.4,51.2 486.3,51.1C487.3,50.9 488.3,50.6 489.2,50.2C490.2,49.7 491.0,48.9 492.0,48.3C493.0,47.7 494.0,46.9 495.1,46.7C496.1,46.4 497.3,46.5 498.3,46.7C499.4,46.8 500.6,46.8 501.6,47.3C502.5,47.8 503.2,48.9 504.1,49.6C505.0,50.3 505.9,51.0 506.9,51.4C508.0,51.8 509.4,51.6 510.2,52.2C511.1,52.8 511.7,54.0 512.1,55.0C512.5,55.9 512.5,57.0 512.7,58.0C512.8,59.0 512.9,60.0 513.0,61.0C513.1,62.0 513.3,63.0 513.4,64.0C513.5,65.0 513.5,66.0 513.6,67.0C513.7,68.0 513.7,69.0 513.8,70.0C513.8,71.0 513.9,72.0 513.9,73.0C514.0,74.0 514.0,75.0 514.1,76.0C514.1,77.0 514.2,78.0 514.2,79.0C514.3,80.0 514.3,81.0 514.4,82.0C514.4,83.0 514.5,84.0 514.5,85.0C514.6,86.0 514.6,87.0 514.7,88.0C514.7,89.0 514.8,90.0 514.8,91.0C514.9,92.0 514.9,93.0 514.9,94.0C515.0,95.0 515.0,96.0 515.0,97.0C515.1,98.0 515.1,99.0 515.1,100.0C515.2,101.0 515.2,102.0 515.2,103.0C515.3,104.0 515.3,105.0 515.3,106.0C515.4,107.0 515.4,108.0 515.4,109.0C515.5,110.0 515.5,111.0 515.5,112.0C515.6,113.0 515.6,114.0 515.6,115.0C515.7,116.0 515.7,117.0 515.7,118.0C515.8,119.0 515.8,120.0 515.8,121.0C515.9,122.0 515.9,123.0 515.9,124.0C516.0,125.0 516.0,126.0 516.0,127.0C516.1,128.0 516.1,129.0 516.1,130.0C516.2,131.0 516.2,132.0 516.2,133.0C516.2,134.0 516.3,135.0 516.3,136.0C516.3,137.0 516.3,138.0 516.4,139.0C516.4,140.0 516.4,141.0 516.4,142.0C516.5,143.0 516.5,144.0 516.5,145.0C516.5,146.0 516.6,147.0 516.6,148.0C516.6,149.0 516.7,150.0 516.7,151.0C516.7,152.0 516.7,153.0 516.8,154.0C516.8,155.0 516.8,156.0 516.8,157.0C516.9,158.0 516.9,159.0 516.9,160.0C516.9,161.0 517.0,162.0 517.0,163.0C517.0,164.0 517.0,165.0 517.1,166.0C517.1,167.0 517.1,168.0 517.1,169.0C517.2,170.0 517.2,171.0 517.2,172.0C517.2,173.0 517.2,174.0 517.3,175.0C517.3,176.0 517.3,177.0 517.3,178.0C517.3,179.0 517.4,180.0 517.4,181.0C517.4,182.0 517.4,183.0 517.4,184.0C517.5,185.0 517.5,186.0 517.5,187.0C517.5,188.0 517.5,189.0 517.6,190.0C517.6,191.0 517.6,192.0 517.6,193.0C517.6,194.0 517.7,195.0 517.7,196.0C517.7,197.0 517.7,198.0 517.7,199.0C517.8,200.0 517.8,201.0 517.8,202.0C517.8,203.0 517.8,204.0 517.9,205.0C517.9,206.0 517.9,207.0 517.9,208.0C517.9,209.0 518.0,210.0 518.0,211.0C518.0,212.0 518.0,213.0 518.0,214.0C518.0,215.0 518.1,216.0 518.1,217.0C518.1,218.0 518.1,219.0 518.1,220.0C518.1,221.0 518.2,222.0 518.2,223.0C518.2,224.0 518.2,225.0 518.2,226.0C518.2,227.0 518.2,228.0 518.3,229.0C518.3,230.0 518.3,231.0 518.3,232.0C518.3,233.0 518.3,234.0 518.4,235.0C518.4,236.0 518.4,237.0 518.4,238.0C518.4,239.0 518.4,240.0 518.4,241.0C518.5,242.0 518.5,243.0 518.5,244.0C518.5,245.0 518.5,246.0 518.5,247.0C518.6,248.0 518.6,249.0 518.6,250.0C518.6,251.0 518.6,252.0 518.6,253.0C518.6,254.0 518.7,255.0 518.7,256.0C518.7,257.0 518.7,258.0 518.7,259.0C518.7,260.0 518.7,261.0 518.7,262.0C518.8,263.0 518.8,264.0 518.8,265.0C518.8,266.0 518.8,267.0 518.8,268.0C518.8,269.0 518.8,270.0 518.9,271.0C518.9,272.0 518.9,273.0 518.9,274.0C518.9,275.0 518.9,276.0 518.9,277.0C518.9,278.0 519.0,279.0 519.0,280.0C519.0,281.0 519.0,282.0 519.0,283.0C519.0,284.0 519.0,285.0 519.0,286.0C519.1,287.0 519.1,288.0 519.1,289.0C519.1,290.0 519.1,291.0 519.1,292.0C519.1,293.0 519.1,294.0 519.1,295.0C519.2,296.0 519.2,297.0 519.2,298.0C519.2,299.0 519.2,300.0 519.2,301.0C519.2,302.0 519.2,303.0 519.2,304.0C519.3,305.0 519.3,306.0 519.3,307.0C519.3,308.0 519.3,309.0 519.3,310.0C519.3,311.0 519.3,312.0 519.3,313.0C519.4,314.0 519.4,315.0 519.4,316.0C519.4,317.0 519.4,318.0 519.4,319.0C519.4,320.0 519.4,321.0 519.4,322.0C519.5,323.0 519.5,324.0 519.5,325.0C519.5,326.0 519.5,327.0 519.5,328.0C519.5,329.0 519.5,330.0 519.5,331.0C519.6,332.0 519.6,333.0 519.6,334.0C519.6,335.0 519.6,336.0 519.6,337.0C519.6,338.0 519.6,339.0 519.6,340.0C519.7,341.0 519.7,342.0 519.7,343.0C519.7,344.0 519.7,345.0 519.7,346.0C519.7,347.0 519.7,348.0 519.7,349.0C519.8,350.0 519.8,351.0 519.8,352.0C519.8,353.0 519.8,354.0 519.8,355.0C519.8,356.0 519.8,357.0 519.8,358.0C519.9,359.0 519.9,360.0 519.9,361.0C519.9,362.0 519.9,363.0 519.9,364.0C519.9,365.0 519.9,366.0 519.9,367.0C520.0,368.0 520.0,369.0 520.0,370.0C520.0,371.0 520.0,372.0 520.0,373.0C520.0,374.0 520.0,375.0 520.1,376.0C520.1,377.0 520.1,378.0 520.1,379.0C520.1,380.0 520.1,381.0 520.1,382.0C520.1,383.0 520.2,384.0 520.2,385.0C520.2,386.0 520.2,387.0 520.2,388.0C520.2,389.0 520.2,390.0 520.2,391.0C520.3,392.0 520.3,393.0 520.3,394.0C520.3,395.0 520.3,396.0 520.3,397.0C520.3,398.0 520.3,399.0 520.4,400.0C520.4,401.0 520.4,402.0 520.4,403.0C520.4,404.0 520.4,405.0 520.4,406.0C520.4,407.0 520.5,408.0 520.5,409.0C520.5,410.0 520.5,411.0 520.5,412.0C520.5,413.0 520.5,414.0 520.6,415.0C520.6,416.0 520.6,417.0 520.6,418.0C520.6,419.0 520.6,420.0 520.7,421.0C520.7,422.0 520.7,423.0 520.7,424.0C520.7,425.0 520.7,426.0 520.8,427.0C520.8,428.0 520.8,429.0 520.8,430.0C520.8,431.0 520.8,432.0 520.8,433.0C520.9,434.0 520.9,435.0 520.9,436.0C520.9,437.0 520.9,438.0 520.9,439.0C521.0,440.0 521.0,441.0 521.0,442.0C521.0,443.0 521.0,444.0 521.0,445.0C521.1,446.0 521.1,447.0 521.1,448.0C521.1,449.0 521.1,450.0 521.1,451.0C521.2,452.0 521.2,453.0 521.2,454.0C521.2,455.0 521.2,456.0 521.3,457.0C521.3,458.0 521.3,459.0 521.3,460.0C521.3,461.0 521.4,462.0 521.4,463.0C521.4,464.0 521.4,465.0 521.4,466.0C521.5,467.0 521.5,468.0 521.5,469.0C521.5,470.0 521.5,471.0 521.6,472.0C521.6,473.0 521.6,474.0 521.6,475.0C521.6,476.0 521.7,477.0 521.7,478.0C521.7,479.0 521.7,480.0 521.7,481.0C521.8,482.0 521.8,483.0 521.8,484.0C521.8,485.0 521.8,486.0 521.9,487.0C521.9,488.0 521.9,489.0 521.9,490.0C522.0,491.0 522.0,492.0 522.0,493.0C522.0,494.0 522.1,495.0 522.1,496.0C522.1,497.0 522.1,498.0 522.2,499.0C522.2,500.0 522.2,501.0 522.2,502.0C522.3,503.0 522.3,504.0 522.3,505.0C522.3,506.0 522.4,507.0 522.4,508.0C522.4,509.0 522.5,510.0 522.5,511.0C522.5,512.0 522.5,513.0 522.6,514.0C522.6,515.0 522.6,516.0 522.6,517.0C522.7,518.0 522.7,519.0 522.7,520.0C522.7,521.0 522.8,522.0 522.8,523.0C522.8,524.0 522.8,525.0 522.9,526.0C522.9,527.0 522.9,528.0 523.0,529.0C523.0,530.0 523.0,531.0 523.0,532.0C523.1,533.0 523.1,534.0 523.1,535.0C523.2,536.0 523.2,537.0 523.3,538.0C523.3,539.0 523.3,540.0 523.4,541.0C523.4,542.0 523.4,543.0 523.5,544.0C523.5,545.0 523.5,546.0 523.6,547.0C523.6,548.0 523.6,549.0 523.7,550.0C523.7,551.0 523.7,552.0 523.8,553.0C523.8,554.0 523.8,555.0 523.9,556.0C523.9,557.0 523.9,558.0 524.0,559.0C524.0,560.0 524.0,561.0 524.1,562.0C524.1,563.0 524.1,564.0 524.2,565.0C524.2,566.0 524.2,567.0 524.3,568.0C524.3,569.0 524.3,570.0 524.4,571.0C524.4,572.0 524.5,573.0 524.5,574.0C524.6,575.0 524.6,576.0 524.6,577.0C524.7,578.0 524.7,579.0 524.8,580.0C524.8,581.0 524.9,582.0 524.9,583.0C524.9,584.0 525.0,585.0 525.0,586.0C525.1,587.0 525.1,588.0 525.2,589.0C525.2,590.0 525.2,591.0 525.3,592.0C525.3,593.0 525.4,594.0 525.4,595.0C525.5,596.0 525.5,597.0 525.5,598.0C525.6,599.0 525.6,600.0 525.7,601.0C525.7,602.0 525.8,603.0 525.8,604.0C525.8,605.0 525.9,606.0 525.9,607.0C526.0,608.0 526.0,609.0 526.1,610.0C526.1,611.0 526.2,612.0 526.2,613.0C526.3,614.0 526.3,615.0 526.4,616.0C526.4,617.0 526.5,618.0 526.5,619.0C526.6,620.0 526.6,621.0 526.7,622.0C526.8,623.0 526.8,624.0 526.9,625.0C526.9,626.0 527.0,627.0 527.0,628.0C527.1,629.0 527.1,630.0 527.2,631.0C527.2,632.0 527.3,633.0 527.3,634.0C527.4,635.0 527.4,636.0 527.5,637.0C527.6,638.0 527.6,639.0 527.7,640.0C527.7,641.0 527.8,642.0 527.8,643.0C527.9,644.0 527.9,645.0 528.0,646.0C528.0,647.0 528.1,648.0 528.2,649.0C528.2,650.0 528.3,651.0 528.5,652.0C528.6,653.0 528.7,654.0 528.8,655.0C529.0,656.0 529.1,657.0 529.2,658.0C529.4,659.0 529.5,660.0 529.7,661.0C529.9,662.0 530.0,663.1 530.4,664.0C530.8,664.9 531.3,666.1 532.2,666.5C533.1,666.9 534.7,666.6 535.8,666.4C536.9,666.2 537.7,665.7 538.7,665.4C539.7,665.1 540.7,665.0 541.7,664.8C542.8,664.7 543.9,664.7 544.9,664.6C546.0,664.4 546.9,664.2 548.0,664.0C549.1,663.7 550.1,663.3 551.3,663.1C552.4,662.9 553.7,662.6 554.8,662.7C555.9,662.9 556.9,663.7 557.9,664.1C558.9,664.6 559.8,665.4 560.9,665.5C561.9,665.6 562.9,664.9 564.0,664.5C565.1,664.2 566.1,663.6 567.3,663.6C568.4,663.6 569.8,664.2 571.0,664.5C572.1,664.8 573.2,665.8 574.1,665.5C575.0,665.3 575.9,663.9 576.4,663.0C576.9,662.1 576.9,661.0 577.1,660.0C577.3,659.0 577.4,658.0 577.5,657.0C577.7,656.0 577.8,655.0 577.9,654.0C578.1,653.0 578.2,652.0 578.3,651.0C578.4,650.0 578.5,649.0 578.6,648.0C578.7,647.0 578.7,646.0 578.8,645.0C578.8,644.0 578.9,643.0 579.0,642.0C579.0,641.0 579.1,640.0 579.2,639.0C579.2,638.0 579.3,637.0 579.4,636.0C579.4,635.0 579.5,634.0 579.5,633.0C579.6,632.0 579.7,631.0 579.7,630.0C579.8,629.0 579.9,628.0 579.9,627.0C580.0,626.0 580.1,625.0 580.1,624.0C580.2,623.0 580.2,622.0 580.3,621.0C580.4,620.0 580.4,619.0 580.5,618.0C580.6,617.0 580.6,616.0 580.7,615.0C580.7,614.0 580.8,613.0 580.9,612.0C580.9,611.0 581.0,610.0 581.1,609.0C581.1,608.0 581.2,607.0 581.2,606.0C581.3,605.0 581.3,604.0 581.4,603.0C581.4,602.0 581.5,601.0 581.6,600.0C581.6,599.0 581.7,598.0 581.7,597.0C581.8,596.0 581.8,595.0 581.9,594.0C581.9,593.0 582.0,592.0 582.1,591.0C582.1,590.0 582.2,589.0 582.2,588.0C582.3,587.0 582.3,586.0 582.4,585.0C582.5,584.0 582.5,583.0 582.6,582.0C582.6,581.0 582.7,580.0 582.7,579.0C582.8,578.0 582.8,577.0 582.9,576.0C583.0,575.0 583.0,574.0 583.1,573.0C583.1,572.0 583.2,571.0 583.2,570.0C583.3,569.0 583.3,568.0 583.4,567.0C583.4,566.0 583.5,565.0 583.5,564.0C583.6,563.0 583.6,562.0 583.7,561.0C583.7,560.0 583.8,559.0 583.8,558.0C583.9,557.0 583.9,556.0 584.0,555.0C584.0,554.0 584.1,553.0 584.1,552.0C584.2,551.0 584.2,550.0 584.3,549.0C584.3,548.0 584.4,547.0 584.4,546.0C584.5,545.0 584.5,544.0 584.6,543.0C584.6,542.0 584.7,541.0 584.7,540.0C584.8,539.0 584.8,538.0 584.9,537.0C584.9,536.0 585.0,535.0 585.0,534.0C585.1,533.0 585.1,532.0 585.2,531.0C585.2,530.0 585.2,529.0 585.3,528.0C585.3,527.0 585.4,526.0 585.4,525.0C585.5,524.0 585.5,523.0 585.6,522.0C585.6,521.0 585.6,520.0 585.7,519.0C585.7,518.0 585.8,517.0 585.8,516.0C585.9,515.0 585.9,514.0 585.9,513.0C586.0,512.0 586.0,511.0 586.1,510.0C586.1,509.0 586.2,508.0 586.2,507.0C586.3,506.0 586.3,505.0 586.3,504.0C586.4,503.0 586.4,502.0 586.5,501.0C586.5,500.0 586.6,499.0 586.6,498.0C586.6,497.0 586.7,496.0 586.7,495.0C586.8,494.0 586.8,493.0 586.9,492.0C586.9,491.0 587.0,490.0 587.0,489.0C587.0,488.0 587.1,487.0 587.1,486.0C587.2,485.0 587.2,484.0 587.2,483.0C587.3,482.0 587.3,481.0 587.3,480.0C587.4,479.0 587.4,478.0 587.5,477.0C587.5,476.0 587.5,475.0 587.6,474.0C587.6,473.0 587.7,472.0 587.7,471.0C587.7,470.0 587.8,469.0 587.8,468.0C587.9,467.0 587.9,466.0 587.9,465.0C588.0,464.0 588.0,463.0 588.1,462.0C588.1,461.0 588.1,460.0 588.2,459.0C588.2,458.0 588.2,457.0 588.3,456.0C588.3,455.0 588.4,454.0 588.4,453.0C588.4,452.0 588.5,451.0 588.5,450.0C588.6,449.0 588.6,448.0 588.6,447.0C588.7,446.0 588.7,445.0 588.7,444.0C588.8,443.0 588.8,442.0 588.8,441.0C588.9,440.0 588.9,439.0 589.0,438.0C589.0,437.0 589.0,436.0 589.1,435.0C589.1,434.0 589.1,433.0 589.2,432.0C589.2,431.0 589.2,430.0 589.3,429.0C589.3,428.0 589.3,427.0 589.4,426.0C589.4,425.0 589.5,424.0 589.5,423.0C589.5,422.0 589.6,421.0 589.6,420.0C589.6,419.0 589.7,418.0 589.7,417.0C589.7,416.0 589.8,415.0 589.8,414.0C589.8,413.0 589.9,412.0 589.9,411.0C589.9,410.0 590.0,409.0 590.0,408.0C590.0,407.0 590.1,406.0 590.1,405.0C590.1,404.0 590.2,403.0 590.2,402.0C590.2,401.0 590.3,400.0 590.3,399.0C590.3,398.0 590.4,397.0 590.4,396.0C590.4,395.0 590.5,394.0 590.5,393.0C590.5,392.0 590.6,391.0 590.6,390.0C590.6,389.0 590.7,388.0 590.7,387.0C590.7,386.0 590.8,385.0 590.8,384.0C590.8,383.0 590.9,382.0 590.9,381.0C590.9,380.0 591.0,379.0 591.0,378.0C591.0,377.0 591.1,376.0 591.1,375.0C591.1,374.0 591.2,373.0 591.2,372.0C591.2,371.0 591.3,370.0 591.3,369.0C591.3,368.0 591.4,367.0 591.4,366.0C591.4,365.0 591.5,364.0 591.5,363.0C591.5,362.0 591.6,361.0 591.6,360.0C591.6,359.0 591.7,358.0 591.7,357.0C591.7,356.0 591.7,355.0 591.8,354.0C591.8,353.0 591.8,352.0 591.9,351.0C591.9,350.0 591.9,349.0 592.0,348.0C592.0,347.0 592.0,346.0 592.1,345.0C592.1,344.0 592.1,343.0 592.2,342.0C592.2,341.0 592.2,340.0 592.3,339.0C592.3,338.0 592.3,337.0 592.3,336.0C592.4,335.0 592.4,334.0 592.4,333.0C592.5,332.0 592.5,331.0 592.5,330.0C592.6,329.0 592.6,328.0 592.6,327.0C592.7,326.0 592.7,325.0 592.7,324.0C592.8,323.0 592.8,322.0 592.8,321.0C592.8,320.0 592.9,319.0 592.9,318.0C592.9,317.0 593.0,316.0 593.0,315.0C593.0,314.0 593.1,313.0 593.1,312.0C593.1,311.0 593.2,310.0 593.2,309.0C593.2,308.0 593.3,307.0 593.3,306.0C593.3,305.0 593.3,304.0 593.4,303.0C593.4,302.0 593.4,301.0 593.5,300.0C593.5,299.0 593.5,298.0 593.6,297.0C593.6,296.0 593.6,295.0 593.7,294.0C593.7,293.0 593.7,292.0 593.7,291.0C593.8,290.0 593.8,289.0 593.8,288.0C593.9,287.0 593.9,286.0 593.9,285.0C594.0,284.0 594.0,283.0 594.0,282.0C594.1,281.0 594.1,280.0 594.1,279.0C594.2,278.0 594.2,277.0 594.2,276.0C594.2,275.0 594.3,274.0 594.3,273.0C594.3,272.0 594.4,271.0 594.4,270.0C594.4,269.0 594.5,268.0 594.5,267.0C594.5,266.0 594.6,265.0 594.6,264.0C594.6,263.0 594.7,262.0 594.7,261.0C594.7,260.0 594.8,259.0 594.8,258.0C594.8,257.0 594.8,256.0 594.9,255.0C594.9,254.0 594.9,253.0 595.0,252.0C595.0,251.0 595.0,250.0 595.1,249.0C595.1,248.0 595.1,247.0 595.2,246.0C595.2,245.0 595.2,244.0 595.3,243.0C595.3,242.0 595.3,241.0 595.4,240.0C595.4,239.0 595.4,238.0 595.5,237.0C595.5,236.0 595.5,235.0 595.6,234.0C595.6,233.0 595.6,232.0 595.7,231.0C595.7,230.0 595.7,229.0 595.8,228.0C595.8,227.0 595.8,226.0 595.9,225.0C595.9,224.0 595.9,223.0 596.0,222.0C596.0,221.0 596.0,220.0 596.1,219.0C596.1,218.0 596.1,217.0 596.2,216.0C596.2,215.0 596.2,214.0 596.2,213.0C596.3,212.0 596.3,211.0 596.3,210.0C596.4,209.0 596.4,208.0 596.5,207.0C596.5,206.0 596.5,205.0 596.6,204.0C596.6,203.0 596.6,202.0 596.7,201.0C596.7,200.0 596.7,199.0 596.8,198.0C596.8,197.0 596.8,196.0 596.9,195.0C596.9,194.0 596.9,193.0 597.0,192.0C597.0,191.0 597.1,190.0 597.1,189.0C597.1,188.0 597.2,187.0 597.2,186.0C597.2,185.0 597.3,184.0 597.3,183.0C597.3,182.0 597.4,181.0 597.4,180.0C597.4,179.0 597.5,178.0 597.5,177.0C597.5,176.0 597.6,175.0 597.6,174.0C597.7,173.0 597.7,172.0 597.7,171.0C597.8,170.0 597.8,169.0 597.8,168.0C597.9,167.0 597.9,166.0 598.0,165.0C598.0,164.0 598.0,163.0 598.1,162.0C598.1,161.0 598.1,160.0 598.2,159.0C598.2,158.0 598.3,157.0 598.3,156.0C598.3,155.0 598.4,154.0 598.4,153.0C598.5,152.0 598.5,151.0 598.5,150.0C598.6,149.0 598.6,148.0 598.6,147.0C598.7,146.0 598.7,145.0 598.8,144.0C598.8,143.0 598.8,142.0 598.9,141.0C598.9,140.0 599.0,139.0 599.0,138.0C599.0,137.0 599.1,136.0 599.1,135.0C599.1,134.0 599.2,133.0 599.2,132.0C599.3,131.0 599.3,130.0 599.3,129.0C599.4,128.0 599.4,127.0 599.5,126.0C599.5,125.0 599.6,124.0 599.6,123.0C599.6,122.0 599.7,121.0 599.7,120.0C599.8,119.0 599.8,118.0 599.9,117.0C599.9,116.0 599.9,115.0 600.0,114.0C600.0,113.0 600.1,112.0 600.1,111.0C600.2,110.0 600.2,109.0 600.2,108.0C600.3,107.0 600.3,106.0 600.4,105.0C600.4,104.0 600.5,103.0 600.5,102.0C600.6,101.0 600.6,100.0 600.6,99.0C600.7,98.0 600.7,97.0 600.8,96.0C600.8,95.0 600.9,94.0 600.9,93.0C600.9,92.0 601.0,91.0 601.0,90.0C601.1,89.0 601.2,88.0 601.2,87.0C601.3,86.0 601.3,85.0 601.4,84.0C601.5,83.0 601.5,82.0 601.6,81.0C601.7,80.0 601.7,79.0 601.8,78.0C601.9,77.0 601.9,76.0 602.0,75.0C602.0,74.0 602.1,73.0 602.2,72.0C602.2,71.0 602.3,70.0 602.4,69.0C602.5,68.0 602.6,67.0 602.6,66.0C602.7,65.0 602.8,64.0 602.9,63.0C603.0,62.0 603.1,61.0 603.2,60.0C603.3,59.0 603.3,58.0 603.4,57.0C603.5,56.0 603.7,55.0 603.8,54.0C604.0,53.0 604.2,52.0 604.5,51.0C604.7,50.0 604.8,49.0 605.1,48.0C605.5,47.0 606.0,46.1 606.6,45.2C607.2,44.3 607.8,43.4 608.7,42.9C609.6,42.4 610.7,42.4 611.8,42.3C612.9,42.2 614.0,42.2 615.1,42.2C616.2,42.2 617.4,42.2 618.5,42.2C619.6,42.2 620.7,42.2 621.7,42.2C622.7,42.2 623.7,42.2 624.7,42.2C625.7,42.2 626.8,42.2 627.8,42.2C628.8,42.2 629.8,42.0 630.8,42.3C631.8,42.6 632.9,43.3 633.8,43.9C634.7,44.6 635.2,45.9 636.2,46.0C637.2,46.1 638.9,45.1 640.0,44.7C641.1,44.2 642.0,43.5 643.0,43.1C644.0,42.8 645.0,42.4 646.0,42.7C647.0,43.1 648.2,44.4 648.9,45.3C649.6,46.2 649.9,47.1 650.1,48.0C650.4,49.0 650.5,50.0 650.7,51.0C650.8,52.0 650.9,53.0 651.0,54.0C651.2,55.0 651.3,56.0 651.4,57.0C651.5,58.0 651.7,59.0 651.8,60.0C651.9,61.0 651.9,62.0 652.0,63.0C652.1,64.0 652.2,65.0 652.2,66.0C652.3,67.0 652.4,68.0 652.5,69.0C652.5,70.0 652.6,71.0 652.7,72.0C652.8,73.0 652.8,74.0 652.9,75.0C653.0,76.0 653.1,77.0 653.1,78.0C653.2,79.0 653.3,80.0 653.4,81.0C653.5,82.0 653.5,83.0 653.6,84.0C653.7,85.0 653.8,86.0 653.9,87.0C654.0,88.0 654.0,89.0 654.1,90.0C654.1,91.0 654.2,92.0 654.2,93.0C654.2,94.0 654.2,95.0 654.3,96.0C654.3,97.0 654.3,98.0 654.3,99.0C654.3,100.0 654.4,101.0 654.4,102.0C654.4,103.0 654.4,104.0 654.5,105.0C654.5,106.0 654.5,107.0 654.5,108.0C654.5,109.0 654.6,110.0 654.6,111.0C654.6,112.0 654.6,113.0 654.7,114.0C654.7,115.0 654.7,116.0 654.7,117.0C654.7,118.0 654.8,119.0 654.8,120.0C654.8,121.0 654.8,122.0 654.9,123.0C654.9,124.0 654.9,125.0 654.9,126.0C654.9,127.0 655.0,128.0 655.0,129.0C655.0,130.0 655.0,131.0 655.1,132.0C655.1,133.0 655.1,134.0 655.1,135.0C655.2,136.0 655.2,137.0 655.2,138.0C655.2,139.0 655.3,140.0 655.3,141.0C655.3,142.0 655.4,143.0 655.4,144.0C655.4,145.0 655.4,146.0 655.5,147.0C655.5,148.0 655.5,149.0 655.5,150.0C655.6,151.0 655.6,152.0 655.6,153.0C655.6,154.0 655.7,155.0 655.7,156.0C655.7,157.0 655.7,158.0 655.8,159.0C655.8,160.0 655.8,161.0 655.8,162.0C655.9,163.0 655.9,164.0 655.9,165.0C656.0,166.0 656.0,167.0 656.0,168.0C656.0,169.0 656.1,170.0 656.1,171.0C656.1,172.0 656.1,173.0 656.2,174.0C656.2,175.0 656.2,176.0 656.3,177.0C656.3,178.0 656.3,179.0 656.3,180.0C656.4,181.0 656.4,182.0 656.4,183.0C656.5,184.0 656.5,185.0 656.5,186.0C656.6,187.0 656.6,188.0 656.6,189.0C656.6,190.0 656.7,191.0 656.7,192.0C656.7,193.0 656.8,194.0 656.8,195.0C656.8,196.0 656.8,197.0 656.9,198.0C656.9,199.0 656.9,200.0 657.0,201.0C657.0,202.0 657.0,203.0 657.1,204.0C657.1,205.0 657.1,206.0 657.1,207.0C657.2,208.0 657.2,209.0 657.2,210.0C657.3,211.0 657.3,212.0 657.3,213.0C657.4,214.0 657.4,215.0 657.4,216.0C657.5,217.0 657.5,218.0 657.5,219.0C657.6,220.0 657.6,221.0 657.6,222.0C657.7,223.0 657.7,224.0 657.7,225.0C657.8,226.0 657.8,227.0 657.8,228.0C657.8,229.0 657.9,230.0 657.9,231.0C657.9,232.0 658.0,233.0 658.0,234.0C658.0,235.0 658.1,236.0 658.1,237.0C658.1,238.0 658.2,239.0 658.2,240.0C658.2,241.0 658.3,242.0 658.3,243.0C658.3,244.0 658.4,245.0 658.4,246.0C658.4,247.0 658.5,248.0 658.5,249.0C658.5,250.0 658.6,251.0 658.6,252.0C658.6,253.0 658.7,254.0 658.7,255.0C658.7,256.0 658.8,257.0 658.8,258.0C658.8,259.0 658.9,260.0 658.9,261.0C658.9,262.0 659.0,263.0 659.0,264.0C659.0,265.0 659.1,266.0 659.1,267.0C659.2,268.0 659.2,269.0 659.2,270.0C659.3,271.0 659.3,272.0 659.3,273.0C659.4,274.0 659.4,275.0 659.4,276.0C659.5,277.0 659.5,278.0 659.5,279.0C659.6,280.0 659.6,281.0 659.6,282.0C659.7,283.0 659.7,284.0 659.7,285.0C659.8,286.0 659.8,287.0 659.9,288.0C659.9,289.0 659.9,290.0 660.0,291.0C660.0,292.0 660.0,293.0 660.1,294.0C660.1,295.0 660.1,296.0 660.2,297.0C660.2,298.0 660.3,299.0 660.3,300.0C660.3,301.0 660.4,302.0 660.4,303.0C660.4,304.0 660.5,305.0 660.5,306.0C660.5,307.0 660.6,308.0 660.6,309.0C660.7,310.0 660.7,311.0 660.7,312.0C660.8,313.0 660.8,314.0 660.8,315.0C660.9,316.0 660.9,317.0 661.0,318.0C661.0,319.0 661.0,320.0 661.1,321.0C661.1,322.0 661.1,323.0 661.2,324.0C661.2,325.0 661.2,326.0 661.3,327.0C661.3,328.0 661.4,329.0 661.4,330.0C661.4,331.0 661.5,332.0 661.5,333.0C661.5,334.0 661.6,335.0 661.6,336.0C661.7,337.0 661.7,338.0 661.7,339.0C661.8,340.0 661.8,341.0 661.9,342.0C661.9,343.0 661.9,344.0 662.0,345.0C662.0,346.0 662.0,347.0 662.1,348.0C662.1,349.0 662.2,350.0 662.2,351.0C662.2,352.0 662.3,353.0 662.3,354.0C662.4,355.0 662.4,356.0 662.4,357.0C662.5,358.0 662.5,359.0 662.6,360.0C662.6,361.0 662.6,362.0 662.7,363.0C662.7,364.0 662.7,365.0 662.8,366.0C662.8,367.0 662.9,368.0 662.9,369.0C662.9,370.0 663.0,371.0 663.0,372.0C663.1,373.0 663.1,374.0 663.1,375.0C663.2,376.0 663.2,377.0 663.3,378.0C663.3,379.0 663.3,380.0 663.4,381.0C663.4,382.0 663.5,383.0 663.5,384.0C663.5,385.0 663.6,386.0 663.6,387.0C663.6,388.0 663.7,389.0 663.7,390.0C663.8,391.0 663.8,392.0 663.8,393.0C663.9,394.0 663.9,395.0 664.0,396.0C664.0,397.0 664.0,398.0 664.1,399.0C664.1,400.0 664.2,401.0 664.2,402.0C664.2,403.0 664.3,404.0 664.3,405.0C664.4,406.0 664.4,407.0 664.4,408.0C664.5,409.0 664.5,410.0 664.6,411.0C664.6,412.0 664.6,413.0 664.7,414.0C664.7,415.0 664.8,416.0 664.8,417.0C664.8,418.0 664.9,419.0 664.9,420.0C665.0,421.0 665.0,422.0 665.0,423.0C665.1,424.0 665.1,425.0 665.2,426.0C665.2,427.0 665.3,428.0 665.3,429.0C665.3,430.0 665.4,431.0 665.4,432.0C665.5,433.0 665.5,434.0 665.5,435.0C665.6,436.0 665.6,437.0 665.7,438.0C665.7,439.0 665.7,440.0 665.8,441.0C665.8,442.0 665.9,443.0 665.9,444.0C665.9,445.0 666.0,446.0 666.0,447.0C666.1,448.0 666.1,449.0 666.1,450.0C666.2,451.0 666.2,452.0 666.3,453.0C666.3,454.0 666.3,455.0 666.4,456.0C666.4,457.0 666.5,458.0 666.5,459.0C666.5,460.0 666.6,461.0 666.6,462.0C666.7,463.0 666.7,464.0 666.8,465.0C666.8,466.0 666.8,467.0 666.9,468.0C666.9,469.0 667.0,470.0 667.0,471.0C667.0,472.0 667.1,473.0 667.1,474.0C667.2,475.0 667.2,476.0 667.2,477.0C667.3,478.0 667.3,479.0 667.4,480.0C667.4,481.0 667.4,482.0 667.5,483.0C667.5,484.0 667.6,485.0 667.6,486.0C667.6,487.0 667.7,488.0 667.7,489.0C667.8,490.0 667.8,491.0 667.9,492.0C667.9,493.0 667.9,494.0 668.0,495.0C668.0,496.0 668.1,497.0 668.1,498.0C668.1,499.0 668.2,500.0 668.2,501.0C668.3,502.0 668.3,503.0 668.3,504.0C668.4,505.0 668.4,506.0 668.5,507.0C668.5,508.0 668.5,509.0 668.6,510.0C668.6,511.0 668.7,512.0 668.7,513.0C668.7,514.0 668.8,515.0 668.8,516.0C668.9,517.0 668.9,518.0 668.9,519.0C669.0,520.0 669.0,521.0 669.1,522.0C669.1,523.0 669.2,524.0 669.2,525.0C669.2,526.0 669.3,527.0 669.3,528.0C669.4,529.0 669.4,530.0 669.4,531.0C669.5,532.0 669.5,533.0 669.6,534.0C669.6,535.0 669.6,536.0 669.7,537.0C669.7,538.0 669.8,539.0 669.8,540.0C669.8,541.0 669.9,542.0 669.9,543.0C670.0,544.0 670.0,545.0 670.0,546.0C670.1,547.0 670.1,548.0 670.2,549.0C670.2,550.0 670.2,551.0 670.3,552.0C670.3,553.0 670.4,554.0 670.4,555.0C670.4,556.0 670.5,557.0 670.5,558.0C670.6,559.0 670.6,560.0 670.6,561.0C670.7,562.0 670.7,563.0 670.8,564.0C670.8,565.0 670.8,566.0 670.9,567.0C670.9,568.0 671.0,569.0 671.0,570.0C671.0,571.0 671.1,572.0 671.1,573.0C671.2,574.0 671.2,575.0 671.2,576.0C671.3,577.0 671.3,578.0 671.3,579.0C671.4,580.0 671.4,581.0 671.5,582.0C671.5,583.0 671.5,584.0 671.6,585.0C671.6,586.0 671.7,587.0 671.7,588.0C671.7,589.0 671.8,590.0 671.8,591.0C671.9,592.0 671.9,593.0 671.9,594.0C672.0,595.0 672.0,596.0 672.1,597.0C672.1,598.0 672.1,599.0 672.2,600.0C672.2,601.0 672.2,602.0 672.3,603.0C672.3,604.0 672.4,605.0 672.4,606.0C672.4,607.0 672.5,608.0 672.5,609.0C672.6,610.0 672.6,611.0 672.6,612.0C672.7,613.0 672.7,614.0 672.8,615.0C672.8,616.0 672.8,617.0 672.9,618.0C672.9,619.0 672.9,620.0 673.0,621.0C673.0,622.0 673.1,623.0 673.1,624.0C673.1,625.0 673.2,626.0 673.2,627.0C673.2,628.0 673.3,629.0 673.3,630.0C673.4,631.0 673.4,632.0 673.4,633.0C673.5,634.0 673.5,635.0 673.5,636.0C673.6,637.0 673.6,638.0 673.7,639.0C673.7,640.0 673.7,641.0 673.8,642.0C673.8,643.0 673.8,644.0 673.9,645.0C673.9,646.0 673.9,647.0 674.0,648.0C674.1,649.0 674.1,650.0 674.3,651.0C674.4,652.0 674.7,653.0 674.8,654.0C675.0,655.0 675.2,656.0 675.4,657.0C675.6,658.0 675.8,659.0 676.0,660.0C676.3,661.0 676.3,661.9 676.8,663.0C677.2,664.1 677.8,665.6 678.7,666.5C679.5,667.4 681.0,668.0 682.0,668.2C683.1,668.4 684.0,668.2 685.0,667.7C685.9,667.3 686.8,666.3 687.7,665.5C688.6,664.7 689.4,663.4 690.4,663.0C691.5,662.7 693.1,663.1 694.1,663.5C695.1,664.0 695.5,665.0 696.3,665.7C697.2,666.4 698.1,667.0 699.0,667.5C699.9,667.9 701.0,668.3 702.0,668.4C703.0,668.6 704.0,668.5 705.0,668.2C706.0,667.9 707.1,667.3 707.9,666.6C708.7,665.9 709.2,664.9 709.7,664.0C710.1,663.1 710.3,662.0 710.7,661.0C711.0,660.0 711.3,659.0 711.6,658.0C712.0,657.0 712.3,656.0 712.6,655.0C712.9,654.0 713.3,653.0 713.6,652.0C713.9,651.0 714.1,650.0 714.2,649.0C714.4,648.0 714.4,647.0 714.4,646.0C714.5,645.0 714.5,644.0 714.5,643.0C714.6,642.0 714.6,641.0 714.7,640.0C714.7,639.0 714.8,638.0 714.8,637.0C714.8,636.0 714.9,635.0 714.9,634.0C715.0,633.0 715.0,632.0 715.1,631.0C715.1,630.0 715.1,629.0 715.2,628.0C715.2,627.0 715.3,626.0 715.3,625.0C715.4,624.0 715.4,623.0 715.4,622.0C715.5,621.0 715.5,620.0 715.6,619.0C715.6,618.0 715.7,617.0 715.7,616.0C715.7,615.0 715.8,614.0 715.8,613.0C715.9,612.0 715.9,611.0 716.0,610.0C716.0,609.0 716.0,608.0 716.1,607.0C716.1,606.0 716.2,605.0 716.2,604.0C716.3,603.0 716.3,602.0 716.3,601.0C716.4,600.0 716.4,599.0 716.5,598.0C716.5,597.0 716.6,596.0 716.6,595.0C716.6,594.0 716.7,593.0 716.7,592.0C716.8,591.0 716.8,590.0 716.9,589.0C716.9,588.0 717.0,587.0 717.0,586.0C717.0,585.0 717.1,584.0 717.1,583.0C717.2,582.0 717.2,581.0 717.3,580.0C717.3,579.0 717.3,578.0 717.4,577.0C717.4,576.0 717.5,575.0 717.5,574.0C717.6,573.0 717.6,572.0 717.6,571.0C717.7,570.0 717.7,569.0 717.8,568.0C717.8,567.0 717.9,566.0 717.9,565.0C718.0,564.0 718.0,563.0 718.0,562.0C718.1,561.0 718.1,560.0 718.2,559.0C718.2,558.0 718.3,557.0 718.3,556.0C718.3,555.0 718.4,554.0 718.4,553.0C718.5,552.0 718.5,551.0 718.6,550.0C718.6,549.0 718.7,548.0 718.7,547.0C718.7,546.0 718.8,545.0 718.8,544.0C718.9,543.0 718.9,542.0 719.0,541.0C719.0,540.0 719.1,539.0 719.1,538.0C719.1,537.0 719.2,536.0 719.2,535.0C719.3,534.0 719.3,533.0 719.4,532.0C719.4,531.0 719.4,530.0 719.5,529.0C719.5,528.0 719.6,527.0 719.6,526.0C719.7,525.0 719.7,524.0 719.8,523.0C719.8,522.0 719.8,521.0 719.9,520.0C719.9,519.0 720.0,518.0 720.0,517.0C720.1,516.0 720.1,515.0 720.1,514.0C720.2,513.0 720.2,512.0 720.3,511.0C720.3,510.0 720.4,509.0 720.4,508.0C720.5,507.0 720.5,506.0 720.5,505.0C720.6,504.0 720.6,503.0 720.7,502.0C720.7,501.0 720.8,500.0 720.8,499.0C720.9,498.0 720.9,497.0 720.9,496.0C721.0,495.0 721.0,494.0 721.1,493.0C721.1,492.0 721.2,491.0 721.2,490.0C721.3,489.0 721.3,488.0 721.3,487.0C721.4,486.0 721.4,485.0 721.5,484.0C721.5,483.0 721.6,482.0 721.6,481.0C721.6,480.0 721.7,479.0 721.7,478.0C721.8,477.0 721.8,476.0 721.9,475.0C721.9,474.0 722.0,473.0 722.0,472.0C722.0,471.0 722.1,470.0 722.1,469.0C722.2,468.0 722.2,467.0 722.3,466.0C722.3,465.0 722.4,464.0 722.4,463.0C722.4,462.0 722.5,461.0 722.5,460.0C722.6,459.0 722.6,458.0 722.7,457.0C722.7,456.0 722.8,455.0 722.8,454.0C722.8,453.0 722.9,452.0 722.9,451.0C723.0,450.0 723.0,449.0 723.1,448.0C723.1,447.0 723.2,446.0 723.2,445.0C723.2,444.0 723.3,443.0 723.3,442.0C723.4,441.0 723.4,440.0 723.5,439.0C723.5,438.0 723.5,437.0 723.6,436.0C723.6,435.0 723.7,434.0 723.7,433.0C723.8,432.0 723.8,431.0 723.9,430.0C723.9,429.0 723.9,428.0 724.0,427.0C724.0,426.0 724.1,425.0 724.1,424.0C724.2,423.0 724.2,422.0 724.3,421.0C724.3,420.0 724.3,419.0 724.4,418.0C724.4,417.0 724.5,416.0 724.5,415.0C724.6,414.0 724.6,413.0 724.7,412.0C724.7,411.0 724.7,410.0 724.8,409.0C724.8,408.0 724.9,407.0 724.9,406.0C725.0,405.0 725.0,404.0 725.0,403.0C725.1,402.0 725.1,401.0 725.2,400.0C725.2,399.0 725.3,398.0 725.3,397.0C725.4,396.0 725.4,395.0 725.4,394.0C725.5,393.0 725.5,392.0 725.6,391.0C725.6,390.0 725.7,389.0 725.7,388.0C725.7,387.0 725.8,386.0 725.8,385.0C725.9,384.0 725.9,383.0 726.0,382.0C726.0,381.0 726.1,380.0 726.1,379.0C726.1,378.0 726.2,377.0 726.2,376.0C726.3,375.0 726.3,374.0 726.4,373.0C726.4,372.0 726.5,371.0 726.5,370.0C726.5,369.0 726.6,368.0 726.6,367.0C726.7,366.0 726.7,365.0 726.8,364.0C726.8,363.0 726.8,362.0 726.9,361.0C726.9,360.0 727.0,359.0 727.0,358.0C727.1,357.0 727.1,356.0 727.1,355.0C727.2,354.0 727.2,353.0 727.3,352.0C727.3,351.0 727.4,350.0 727.4,349.0C727.5,348.0 727.5,347.0 727.5,346.0C727.6,345.0 727.6,344.0 727.7,343.0C727.7,342.0 727.8,341.0 727.8,340.0C727.8,339.0 727.9,338.0 727.9,337.0C728.0,336.0 728.0,335.0 728.1,334.0C728.1,333.0 728.1,332.0 728.2,331.0C728.2,330.0 728.3,329.0 728.3,328.0C728.4,327.0 728.4,326.0 728.5,325.0C728.5,324.0 728.5,323.0 728.6,322.0C728.6,321.0 728.7,320.0 728.7,319.0C728.8,318.0 728.8,317.0 728.8,316.0C728.9,315.0 728.9,314.0 729.0,313.0C729.0,312.0 729.1,311.0 729.1,310.0C729.1,309.0 729.2,308.0 729.2,307.0C729.3,306.0 729.3,305.0 729.4,304.0C729.4,303.0 729.4,302.0 729.5,301.0C729.5,300.0 729.6,299.0 729.6,298.0C729.7,297.0 729.7,296.0 729.7,295.0C729.8,294.0 729.8,293.0 729.9,292.0C729.9,291.0 730.0,290.0 730.0,289.0C730.0,288.0 730.1,287.0 730.1,286.0C730.2,285.0 730.2,284.0 730.3,283.0C730.3,282.0 730.3,281.0 730.4,280.0C730.4,279.0 730.5,278.0 730.5,277.0C730.5,276.0 730.6,275.0 730.6,274.0C730.7,273.0 730.7,272.0 730.8,271.0C730.8,270.0 730.8,269.0 730.9,268.0C730.9,267.0 731.0,266.0 731.0,265.0C731.1,264.0 731.1,263.0 731.1,262.0C731.2,261.0 731.2,260.0 731.3,259.0C731.3,258.0 731.4,257.0 731.4,256.0C731.4,255.0 731.5,254.0 731.5,253.0C731.6,252.0 731.6,251.0 731.7,250.0C731.7,249.0 731.7,248.0 731.8,247.0C731.8,246.0 731.9,245.0 731.9,244.0C731.9,243.0 732.0,242.0 732.0,241.0C732.1,240.0 732.1,239.0 732.1,238.0C732.2,237.0 732.2,236.0 732.3,235.0C732.3,234.0 732.4,233.0 732.4,232.0C732.4,231.0 732.5,230.0 732.5,229.0C732.6,228.0 732.6,227.0 732.6,226.0C732.7,225.0 732.7,224.0 732.8,223.0C732.8,222.0 732.9,221.0 732.9,220.0C732.9,219.0 733.0,218.0 733.0,217.0C733.1,216.0 733.1,215.0 733.1,214.0C733.2,213.0 733.2,212.0 733.3,211.0C733.3,210.0 733.4,209.0 733.4,208.0C733.4,207.0 733.5,206.0 733.5,205.0C733.6,204.0 733.6,203.0 733.6,202.0C733.7,201.0 733.7,200.0 733.8,199.0C733.8,198.0 733.8,197.0 733.9,196.0C733.9,195.0 734.0,194.0 734.0,193.0C734.0,192.0 734.1,191.0 734.1,190.0C734.2,189.0 734.2,188.0 734.2,187.0C734.3,186.0 734.3,185.0 734.4,184.0C734.4,183.0 734.4,182.0 734.5,181.0C734.5,180.0 734.6,179.0 734.6,178.0C734.6,177.0 734.7,176.0 734.7,175.0C734.8,174.0 734.8,173.0 734.9,172.0C734.9,171.0 734.9,170.0 735.0,169.0C735.0,168.0 735.1,167.0 735.1,166.0C735.1,165.0 735.2,164.0 735.2,163.0C735.2,162.0 735.3,161.0 735.3,160.0C735.4,159.0 735.4,158.0 735.4,157.0C735.5,156.0 735.5,155.0 735.6,154.0C735.6,153.0 735.6,152.0 735.7,151.0C735.7,150.0 735.8,149.0 735.8,148.0C735.8,147.0 735.9,146.0 735.9,145.0C736.0,144.0 736.0,143.0 736.0,142.0C736.1,141.0 736.1,140.0 736.2,139.0C736.2,138.0 736.2,137.0 736.3,136.0C736.3,135.0 736.4,134.0 736.4,133.0C736.4,132.0 736.5,131.0 736.5,130.0C736.5,129.0 736.6,128.0 736.6,127.0C736.7,126.0 736.7,125.0 736.7,124.0C736.8,123.0 736.8,122.0 736.9,121.0C736.9,120.0 736.9,119.0 737.0,118.0C737.0,117.0 737.0,116.0 737.1,115.0C737.1,114.0 737.2,113.0 737.2,112.0C737.2,111.0 737.3,110.0 737.3,109.0C737.3,108.0 737.4,107.0 737.4,106.0C737.5,105.0 737.5,104.0 737.5,103.0C737.6,102.0 737.6,101.0 737.7,100.0C737.7,99.0 737.7,98.0 737.8,97.0C737.8,96.0 737.8,95.0 737.9,94.0C737.9,93.0 738.0,92.0 738.0,91.0C738.1,90.0 738.1,89.0 738.2,88.0C738.3,87.0 738.4,86.0 738.4,85.0C738.5,84.0 738.6,83.0 738.7,82.0C738.8,81.0 738.8,80.0 738.9,79.0C739.0,78.0 739.1,77.0 739.2,76.0C739.3,75.0 739.3,74.0 739.4,73.0C739.5,72.0 739.6,71.0 739.7,70.0C739.8,69.0 739.9,68.0 740.0,67.0C740.1,66.0 740.1,65.0 740.2,64.0C740.3,63.0 740.4,62.0 740.5,61.0C740.6,60.0 740.7,59.0 740.8,58.0C741.0,57.0 741.2,56.0 741.4,55.0C741.5,54.0 741.7,53.0 741.9,52.0C742.2,51.0 742.3,50.0 742.7,49.1C743.2,48.2 743.9,47.5 744.6,46.7C745.2,45.9 745.8,45.0 746.6,44.3C747.5,43.7 748.5,42.7 749.5,42.8C750.6,42.9 751.7,44.6 752.8,45.1C754.0,45.5 755.3,45.5 756.3,45.4C757.3,45.2 758.1,44.4 759.1,44.1C760.1,43.8 761.3,43.6 762.4,43.4C763.5,43.2 764.7,43.1 765.9,43.1C767.0,43.1 768.2,43.2 769.3,43.5C770.4,43.7 771.3,44.1 772.2,44.6C773.1,45.0 773.8,45.8 774.7,46.2C775.7,46.6 777.1,47.1 778.0,46.9C779.0,46.7 779.5,45.5 780.3,44.8C781.1,44.1 782.0,43.4 783.0,42.9C784.0,42.3 785.0,41.7 786.0,41.6C787.1,41.4 788.2,41.7 789.3,41.9C790.3,42.0 791.4,42.4 792.5,42.5C793.6,42.7 794.7,42.9 795.8,43.0C796.9,43.2 798.0,43.2 799.0,43.3C800.1,43.3 801.3,43.3 802.3,43.5C803.3,43.8 804.3,44.2 805.2,44.8C806.1,45.3 806.8,46.2 807.6,47.0C808.3,47.8 808.7,48.9 809.7,49.4C810.7,49.9 812.3,49.7 813.5,50.1C814.7,50.6 815.9,51.3 816.7,52.0C817.6,52.7 818.0,53.7 818.4,54.6C818.8,55.5 819.0,56.6 819.2,57.7C819.4,58.7 819.6,59.8 819.8,60.9C820.0,61.9 820.1,63.0 820.3,64.0C820.4,65.0 820.5,66.0 820.5,67.0C820.6,68.0 820.7,69.0 820.8,70.0C820.9,71.0 821.0,72.0 821.0,73.0C821.1,74.0 821.2,75.0 821.3,76.0C821.4,77.0 821.4,78.0 821.5,79.0C821.5,80.0 821.6,81.0 821.7,82.0C821.7,83.0 821.8,84.0 821.8,85.0C821.9,86.0 822.0,87.0 822.0,88.0C822.1,89.0 822.1,90.0 822.2,91.0C822.2,92.0 822.3,93.0 822.3,94.0C822.4,95.0 822.4,96.0 822.5,97.0C822.5,98.0 822.5,99.0 822.6,100.0C822.6,101.0 822.7,102.0 822.7,103.0C822.8,104.0 822.8,105.0 822.9,106.0C822.9,107.0 823.0,108.0 823.0,109.0C823.0,110.0 823.1,111.0 823.1,112.0C823.2,113.0 823.2,114.0 823.3,115.0C823.3,116.0 823.4,117.0 823.4,118.0C823.4,119.0 823.5,120.0 823.5,121.0C823.6,122.0 823.6,123.0 823.7,124.0C823.7,125.0 823.8,126.0 823.8,127.0C823.9,128.0 823.9,129.0 823.9,130.0C824.0,131.0 824.0,132.0 824.1,133.0C824.1,134.0 824.1,135.0 824.2,136.0C824.2,137.0 824.2,138.0 824.3,139.0C824.3,140.0 824.3,141.0 824.4,142.0C824.4,143.0 824.4,144.0 824.5,145.0C824.5,146.0 824.6,147.0 824.6,148.0C824.6,149.0 824.7,150.0 824.7,151.0C824.7,152.0 824.8,153.0 824.8,154.0C824.8,155.0 824.9,156.0 824.9,157.0C824.9,158.0 825.0,159.0 825.0,160.0C825.1,161.0 825.1,162.0 825.1,163.0C825.2,164.0 825.2,165.0 825.2,166.0C825.3,167.0 825.3,168.0 825.3,169.0C825.4,170.0 825.4,171.0 825.4,172.0C825.5,173.0 825.5,174.0 825.5,175.0C825.5,176.0 825.6,177.0 825.6,178.0C825.6,179.0 825.7,180.0 825.7,181.0C825.7,182.0 825.7,183.0 825.8,184.0C825.8,185.0 825.8,186.0 825.9,187.0C825.9,188.0 825.9,189.0 825.9,190.0C826.0,191.0 826.0,192.0 826.0,193.0C826.0,194.0 826.1,195.0 826.1,196.0C826.1,197.0 826.2,198.0 826.2,199.0C826.2,200.0 826.2,201.0 826.3,202.0C826.3,203.0 826.3,204.0 826.4,205.0C826.4,206.0 826.4,207.0 826.4,208.0C826.5,209.0 826.5,210.0 826.5,211.0C826.5,212.0 826.6,213.0 826.6,214.0C826.6,215.0 826.6,216.0 826.7,217.0C826.7,218.0 826.7,219.0 826.7,220.0C826.7,221.0 826.8,222.0 826.8,223.0C826.8,224.0 826.8,225.0 826.9,226.0C826.9,227.0 826.9,228.0 826.9,229.0C826.9,230.0 827.0,231.0 827.0,232.0C827.0,233.0 827.0,234.0 827.1,235.0C827.1,236.0 827.1,237.0 827.1,238.0C827.1,239.0 827.2,240.0 827.2,241.0C827.2,242.0 827.2,243.0 827.3,244.0C827.3,245.0 827.3,246.0 827.3,247.0C827.3,248.0 827.4,249.0 827.4,250.0C827.4,251.0 827.4,252.0 827.4,253.0C827.5,254.0 827.5,255.0 827.5,256.0C827.5,257.0 827.5,258.0 827.6,259.0C827.6,260.0 827.6,261.0 827.6,262.0C827.6,263.0 827.7,264.0 827.7,265.0C827.7,266.0 827.7,267.0 827.7,268.0C827.7,269.0 827.8,270.0 827.8,271.0C827.8,272.0 827.8,273.0 827.8,274.0C827.9,275.0 827.9,276.0 827.9,277.0C827.9,278.0 827.9,279.0 827.9,280.0C828.0,281.0 828.0,282.0 828.0,283.0C828.0,284.0 828.0,285.0 828.1,286.0C828.1,287.0 828.1,288.0 828.1,289.0C828.1,290.0 828.1,291.0 828.2,292.0C828.2,293.0 828.2,294.0 828.2,295.0C828.2,296.0 828.2,297.0 828.3,298.0C828.3,299.0 828.3,300.0 828.3,301.0C828.3,302.0 828.3,303.0 828.4,304.0C828.4,305.0 828.4,306.0 828.4,307.0C828.4,308.0 828.4,309.0 828.5,310.0C828.5,311.0 828.5,312.0 828.5,313.0C828.5,314.0 828.5,315.0 828.6,316.0C828.6,317.0 828.6,318.0 828.6,319.0C828.6,320.0 828.6,321.0 828.7,322.0C828.7,323.0 828.7,324.0 828.7,325.0C828.7,326.0 828.7,327.0 828.7,328.0C828.8,329.0 828.8,330.0 828.8,331.0C828.8,332.0 828.8,333.0 828.8,334.0C828.9,335.0 828.9,336.0 828.9,337.0C828.9,338.0 828.9,339.0 828.9,340.0C829.0,341.0 829.0,342.0 829.0,343.0C829.0,344.0 829.0,345.0 829.0,346.0C829.1,347.0 829.1,348.0 829.1,349.0C829.1,350.0 829.1,351.0 829.1,352.0C829.1,353.0 829.2,354.0 829.2,355.0C829.2,356.0 829.2,357.0 829.2,358.0C829.2,359.0 829.3,360.0 829.3,361.0C829.3,362.0 829.3,363.0 829.3,364.0C829.3,365.0 829.4,366.0 829.4,367.0C829.4,368.0 829.4,369.0 829.4,370.0C829.4,371.0 829.5,372.0 829.5,373.0C829.5,374.0 829.5,375.0 829.5,376.0C829.5,377.0 829.6,378.0 829.6,379.0C829.6,380.0 829.6,381.0 829.6,382.0C829.6,383.0 829.7,384.0 829.7,385.0C829.7,386.0 829.7,387.0 829.7,388.0C829.8,389.0 829.8,390.0 829.8,391.0C829.8,392.0 829.8,393.0 829.8,394.0C829.9,395.0 829.9,396.0 829.9,397.0C829.9,398.0 829.9,399.0 829.9,400.0C830.0,401.0 830.0,402.0 830.0,403.0C830.0,404.0 830.0,405.0 830.0,406.0C830.1,407.0 830.1,408.0 830.1,409.0C830.1,410.0 830.1,411.0 830.2,412.0C830.2,413.0 830.2,414.0 830.2,415.0C830.2,416.0 830.3,417.0 830.3,418.0C830.3,419.0 830.3,420.0 830.3,421.0C830.4,422.0 830.4,423.0 830.4,424.0C830.4,425.0 830.5,426.0 830.5,427.0C830.5,428.0 830.5,429.0 830.5,430.0C830.6,431.0 830.6,432.0 830.6,433.0C830.6,434.0 830.6,435.0 830.7,436.0C830.7,437.0 830.7,438.0 830.7,439.0C830.7,440.0 830.8,441.0 830.8,442.0C830.8,443.0 830.8,444.0 830.8,445.0C830.9,446.0 830.9,447.0 830.9,448.0C830.9,449.0 831.0,450.0 831.0,451.0C831.0,452.0 831.0,453.0 831.1,454.0C831.1,455.0 831.1,456.0 831.1,457.0C831.2,458.0 831.2,459.0 831.2,460.0C831.2,461.0 831.3,462.0 831.3,463.0C831.3,464.0 831.3,465.0 831.4,466.0C831.4,467.0 831.4,468.0 831.4,469.0C831.5,470.0 831.5,471.0 831.5,472.0C831.5,473.0 831.6,474.0 831.6,475.0C831.6,476.0 831.6,477.0 831.7,478.0C831.7,479.0 831.7,480.0 831.8,481.0C831.8,482.0 831.8,483.0 831.8,484.0C831.9,485.0 831.9,486.0 831.9,487.0C831.9,488.0 832.0,489.0 832.0,490.0C832.0,491.0 832.1,492.0 832.1,493.0C832.1,494.0 832.2,495.0 832.2,496.0C832.2,497.0 832.2,498.0 832.3,499.0C832.3,500.0 832.3,501.0 832.4,502.0C832.4,503.0 832.4,504.0 832.5,505.0C832.5,506.0 832.5,507.0 832.6,508.0C832.6,509.0 832.6,510.0 832.7,511.0C832.7,512.0 832.7,513.0 832.8,514.0C832.8,515.0 832.8,516.0 832.9,517.0C832.9,518.0 832.9,519.0 833.0,520.0C833.0,521.0 833.0,522.0 833.1,523.0C833.1,524.0 833.1,525.0 833.2,526.0C833.2,527.0 833.2,528.0 833.3,529.0C833.3,530.0 833.3,531.0 833.4,532.0C833.4,533.0 833.5,534.0 833.5,535.0C833.6,536.0 833.6,537.0 833.6,538.0C833.7,539.0 833.7,540.0 833.8,541.0C833.8,542.0 833.8,543.0 833.9,544.0C833.9,545.0 834.0,546.0 834.0,547.0C834.0,548.0 834.1,549.0 834.1,550.0C834.2,551.0 834.2,552.0 834.3,553.0C834.3,554.0 834.3,555.0 834.4,556.0C834.4,557.0 834.5,558.0 834.5,559.0C834.5,560.0 834.6,561.0 834.6,562.0C834.7,563.0 834.7,564.0 834.8,565.0C834.8,566.0 834.8,567.0 834.9,568.0C834.9,569.0 835.0,570.0 835.0,571.0C835.1,572.0 835.1,573.0 835.2,574.0C835.2,575.0 835.3,576.0 835.3,577.0C835.4,578.0 835.4,579.0 835.5,580.0C835.5,581.0 835.6,582.0 835.6,583.0C835.7,584.0 835.7,585.0 835.8,586.0C835.9,587.0 835.9,588.0 836.0,589.0C836.0,590.0 836.1,591.0 836.1,592.0C836.2,593.0 836.2,594.0 836.3,595.0C836.3,596.0 836.4,597.0 836.4,598.0C836.5,599.0 836.5,600.0 836.6,601.0C836.6,602.0 836.7,603.0 836.7,604.0C836.8,605.0 836.8,606.0 836.9,607.0C836.9,608.0 837.0,609.0 837.1,610.0C837.1,611.0 837.2,612.0 837.2,613.0C837.3,614.0 837.4,615.0 837.4,616.0C837.5,617.0 837.6,618.0 837.6,619.0C837.7,620.0 837.8,621.0 837.8,622.0C837.9,623.0 838.0,624.0 838.0,625.0C838.1,626.0 838.1,627.0 838.2,628.0C838.3,629.0 838.3,630.0 838.4,631.0C838.5,632.0 838.5,633.0 838.6,634.0C838.7,635.0 838.7,636.0 838.8,637.0C838.9,638.0 838.9,639.0 839.0,640.0C839.1,641.0 839.1,642.0 839.2,643.0C839.2,644.0 839.3,645.0 839.4,646.0C839.4,647.0 839.4,648.0 839.6,649.0C839.8,650.0 840.1,651.0 840.5,652.0C840.8,653.0 841.2,654.0 841.7,655.0C842.1,656.0 842.6,657.0 843.2,657.9C843.8,658.8 844.5,659.8 845.4,660.5C846.2,661.2 847.3,661.9 848.4,662.1C849.5,662.3 850.8,662.2 851.8,661.8C852.8,661.4 853.6,660.5 854.4,659.7C855.2,658.9 855.8,657.9 856.4,657.0C857.0,656.0 857.4,655.0 857.8,654.0C858.3,653.0 858.8,652.0 859.1,651.0C859.4,650.0 859.6,649.0 859.7,648.0C859.9,647.0 859.9,646.0 859.9,645.0C860.0,644.0 860.1,643.0 860.1,642.0C860.2,641.0 860.3,640.0 860.4,639.0C860.4,638.0 860.5,637.0 860.6,636.0C860.6,635.0 860.7,634.0 860.8,633.0C860.9,632.0 860.9,631.0 861.0,630.0C861.1,629.0 861.1,628.0 861.2,627.0C861.3,626.0 861.3,625.0 861.4,624.0C861.5,623.0 861.6,622.0 861.6,621.0C861.7,620.0 861.8,619.0 861.8,618.0C861.9,617.0 862.0,616.0 862.1,615.0C862.1,614.0 862.2,613.0 862.3,612.0C862.3,611.0 862.4,610.0 862.5,609.0C862.5,608.0 862.6,607.0 862.6,606.0C862.7,605.0 862.8,604.0 862.8,603.0C862.9,602.0 862.9,601.0 863.0,600.0C863.1,599.0 863.1,598.0 863.2,597.0C863.2,596.0 863.3,595.0 863.4,594.0C863.4,593.0 863.5,592.0 863.5,591.0C863.6,590.0 863.7,589.0 863.7,588.0C863.8,587.0 863.8,586.0 863.9,585.0C864.0,584.0 864.0,583.0 864.1,582.0C864.1,581.0 864.2,580.0 864.3,579.0C864.3,578.0 864.4,577.0 864.4,576.0C864.5,575.0 864.6,574.0 864.6,573.0C864.7,572.0 864.7,571.0 864.8,570.0C864.9,569.0 864.9,568.0 865.0,567.0C865.0,566.0 865.1,565.0 865.1,564.0C865.2,563.0 865.2,562.0 865.3,561.0C865.3,560.0 865.4,559.0 865.4,558.0C865.5,557.0 865.5,556.0 865.6,555.0C865.6,554.0 865.7,553.0 865.7,552.0C865.8,551.0 865.8,550.0 865.9,549.0C865.9,548.0 866.0,547.0 866.0,546.0C866.1,545.0 866.1,544.0 866.2,543.0C866.2,542.0 866.3,541.0 866.3,540.0C866.4,539.0 866.4,538.0 866.5,537.0C866.5,536.0 866.6,535.0 866.6,534.0C866.7,533.0 866.7,532.0 866.8,531.0C866.8,530.0 866.9,529.0 866.9,528.0C867.0,527.0 867.0,526.0 867.0,525.0C867.1,524.0 867.1,523.0 867.2,522.0C867.2,521.0 867.3,520.0 867.3,519.0C867.3,518.0 867.4,517.0 867.4,516.0C867.5,515.0 867.5,514.0 867.6,513.0C867.6,512.0 867.6,511.0 867.7,510.0C867.7,509.0 867.8,508.0 867.8,507.0C867.9,506.0 867.9,505.0 867.9,504.0C868.0,503.0 868.0,502.0 868.1,501.0C868.1,500.0 868.2,499.0 868.2,498.0C868.2,497.0 868.3,496.0 868.3,495.0C868.4,494.0 868.4,493.0 868.5,492.0C868.5,491.0 868.5,490.0 868.6,489.0C868.6,488.0 868.7,487.0 868.7,486.0C868.7,485.0 868.8,484.0 868.8,483.0C868.8,482.0 868.9,481.0 868.9,480.0C868.9,479.0 869.0,478.0 869.0,477.0C869.1,476.0 869.1,475.0 869.1,474.0C869.2,473.0 869.2,472.0 869.2,471.0C869.3,470.0 869.3,469.0 869.3,468.0C869.4,467.0 869.4,466.0 869.5,465.0C869.5,464.0 869.5,463.0 869.6,462.0C869.6,461.0 869.6,460.0 869.7,459.0C869.7,458.0 869.8,457.0 869.8,456.0C869.8,455.0 869.9,454.0 869.9,453.0C869.9,452.0 870.0,451.0 870.0,450.0C870.0,449.0 870.1,448.0 870.1,447.0C870.1,446.0 870.2,445.0 870.2,444.0C870.2,443.0 870.3,442.0 870.3,441.0C870.3,440.0 870.4,439.0 870.4,438.0C870.4,437.0 870.5,436.0 870.5,435.0C870.5,434.0 870.6,433.0 870.6,432.0C870.6,431.0 870.7,430.0 870.7,429.0C870.7,428.0 870.7,427.0 870.8,426.0C870.8,425.0 870.8,424.0 870.9,423.0C870.9,422.0 870.9,421.0 871.0,420.0C871.0,419.0 871.0,418.0 871.1,417.0C871.1,416.0 871.1,415.0 871.2,414.0C871.2,413.0 871.2,412.0 871.3,411.0C871.3,410.0 871.3,409.0 871.4,408.0C871.4,407.0 871.4,406.0 871.4,405.0C871.5,404.0 871.5,403.0 871.5,402.0C871.6,401.0 871.6,400.0 871.6,399.0C871.6,398.0 871.7,397.0 871.7,396.0C871.7,395.0 871.8,394.0 871.8,393.0C871.8,392.0 871.8,391.0 871.9,390.0C871.9,389.0 871.9,388.0 872.0,387.0C872.0,386.0 872.0,385.0 872.1,384.0C872.1,383.0 872.1,382.0 872.1,381.0C872.2,380.0 872.2,379.0 872.2,378.0C872.3,377.0 872.3,376.0 872.3,375.0C872.3,374.0 872.4,373.0 872.4,372.0C872.4,371.0 872.5,370.0 872.5,369.0C872.5,368.0 872.5,367.0 872.6,366.0C872.6,365.0 872.6,364.0 872.7,363.0C872.7,362.0 872.7,361.0 872.7,360.0C872.8,359.0 872.8,358.0 872.8,357.0C872.8,356.0 872.9,355.0 872.9,354.0C872.9,353.0 873.0,352.0 873.0,351.0C873.0,350.0 873.0,349.0 873.1,348.0C873.1,347.0 873.1,346.0 873.2,345.0C873.2,344.0 873.2,343.0 873.2,342.0C873.3,341.0 873.3,340.0 873.3,339.0C873.3,338.0 873.4,337.0 873.4,336.0C873.4,335.0 873.5,334.0 873.5,333.0C873.5,332.0 873.5,331.0 873.6,330.0C873.6,329.0 873.6,328.0 873.6,327.0C873.7,326.0 873.7,325.0 873.7,324.0C873.8,323.0 873.8,322.0 873.8,321.0C873.8,320.0 873.9,319.0 873.9,318.0C873.9,317.0 874.0,316.0 874.0,315.0C874.0,314.0 874.0,313.0 874.1,312.0C874.1,311.0 874.1,310.0 874.1,309.0C874.2,308.0 874.2,307.0 874.2,306.0C874.3,305.0 874.3,304.0 874.3,303.0C874.3,302.0 874.4,301.0 874.4,300.0C874.4,299.0 874.5,298.0 874.5,297.0C874.5,296.0 874.5,295.0 874.6,294.0C874.6,293.0 874.6,292.0 874.6,291.0C874.7,290.0 874.7,289.0 874.7,288.0C874.8,287.0 874.8,286.0 874.8,285.0C874.9,284.0 874.9,283.0 874.9,282.0C874.9,281.0 875.0,280.0 875.0,279.0C875.0,278.0 875.1,277.0 875.1,276.0C875.1,275.0 875.1,274.0 875.2,273.0C875.2,272.0 875.2,271.0 875.3,270.0C875.3,269.0 875.3,268.0 875.4,267.0C875.4,266.0 875.4,265.0 875.4,264.0C875.5,263.0 875.5,262.0 875.5,261.0C875.6,260.0 875.6,259.0 875.6,258.0C875.6,257.0 875.7,256.0 875.7,255.0C875.7,254.0 875.8,253.0 875.8,252.0C875.8,251.0 875.9,250.0 875.9,249.0C875.9,248.0 875.9,247.0 876.0,246.0C876.0,245.0 876.0,244.0 876.1,243.0C876.1,242.0 876.1,241.0 876.2,240.0C876.2,239.0 876.2,238.0 876.3,237.0C876.3,236.0 876.3,235.0 876.4,234.0C876.4,233.0 876.4,232.0 876.5,231.0C876.5,230.0 876.5,229.0 876.6,228.0C876.6,227.0 876.6,226.0 876.7,225.0C876.7,224.0 876.7,223.0 876.8,222.0C876.8,221.0 876.8,220.0 876.9,219.0C876.9,218.0 876.9,217.0 877.0,216.0C877.0,215.0 877.0,214.0 877.1,213.0C877.1,212.0 877.1,211.0 877.2,210.0C877.2,209.0 877.2,208.0 877.3,207.0C877.3,206.0 877.3,205.0 877.4,204.0C877.4,203.0 877.5,202.0 877.5,201.0C877.5,200.0 877.6,199.0 877.6,198.0C877.6,197.0 877.7,196.0 877.7,195.0C877.7,194.0 877.8,193.0 877.8,192.0C877.9,191.0 877.9,190.0 877.9,189.0C878.0,188.0 878.0,187.0 878.0,186.0C878.1,185.0 878.1,184.0 878.2,183.0C878.2,182.0 878.2,181.0 878.3,180.0C878.3,179.0 878.3,178.0 878.4,177.0C878.4,176.0 878.5,175.0 878.5,174.0C878.5,173.0 878.6,172.0 878.6,171.0C878.6,170.0 878.7,169.0 878.7,168.0C878.8,167.0 878.8,166.0 878.9,165.0C878.9,164.0 878.9,163.0 879.0,162.0C879.0,161.0 879.1,160.0 879.1,159.0C879.2,158.0 879.2,157.0 879.3,156.0C879.3,155.0 879.3,154.0 879.4,153.0C879.4,152.0 879.5,151.0 879.5,150.0C879.6,149.0 879.6,148.0 879.6,147.0C879.7,146.0 879.7,145.0 879.8,144.0C879.8,143.0 879.9,142.0 879.9,141.0C880.0,140.0 880.0,139.0 880.0,138.0C880.1,137.0 880.1,136.0 880.2,135.0C880.2,134.0 880.3,133.0 880.3,132.0C880.3,131.0 880.4,130.0 880.4,129.0C880.5,128.0 880.5,127.0 880.6,126.0C880.6,125.0 880.7,124.0 880.7,123.0C880.8,122.0 880.9,121.0 880.9,120.0C881.0,119.0 881.0,118.0 881.1,117.0C881.1,116.0 881.2,115.0 881.2,114.0C881.3,113.0 881.3,112.0 881.4,111.0C881.4,110.0 881.5,109.0 881.5,108.0C881.6,107.0 881.6,106.0 881.7,105.0C881.7,104.0 881.8,103.0 881.8,102.0C881.9,101.0 881.9,100.0 882.0,99.0C882.0,98.0 882.1,97.0 882.1,96.0C882.2,95.0 882.2,94.0 882.3,93.0C882.3,92.0 882.4,91.0 882.5,90.0C882.5,89.0 882.7,88.0 882.8,87.0C882.9,86.0 883.0,85.0 883.1,84.0C883.2,83.0 883.3,82.0 883.4,81.0C883.5,80.0 883.6,79.0 883.7,78.0C883.8,77.0 883.9,76.0 884.0,75.0C884.1,74.0 884.2,73.0 884.3,72.0C884.4,71.0 884.5,70.0 884.6,69.0C884.7,68.0 884.8,67.0 884.9,66.0C885.0,65.0 885.1,64.0 885.2,63.0C885.3,62.0 885.4,61.0 885.5,60.0C885.7,59.0 885.7,58.0 886.1,57.0C886.5,56.0 887.1,54.8 887.9,54.1C888.7,53.4 890.0,53.1 891.0,52.7C892.0,52.3 893.0,52.0 894.0,51.8C895.1,51.5 896.1,51.3 897.1,51.0C898.2,50.7 899.3,50.5 900.4,50.3C901.6,50.0 902.8,49.7 903.9,49.5C905.1,49.3 906.1,49.1 907.2,49.0C908.3,48.9 909.3,48.6 910.5,48.8C911.6,49.0 912.8,49.6 913.9,50.0C915.0,50.5 915.9,51.4 916.9,51.5C917.9,51.6 919.0,51.2 919.9,50.8C920.9,50.4 922.0,49.6 922.9,49.1C923.9,48.6 924.8,48.2 925.7,47.8C926.7,47.5 927.7,47.2 928.7,47.2C929.8,47.1 930.9,47.4 932.0,47.6C933.1,47.8 934.1,48.2 935.2,48.5C936.2,48.9 937.2,49.3 938.2,49.7C939.2,50.1 940.1,50.6 941.1,51.0C942.0,51.5 943.1,52.0 944.0,52.4C945.0,52.7 946.0,53.4 947.0,53.2C948.1,53.0 949.4,51.9 950.4,51.2C951.4,50.6 952.1,50.0 953.0,49.5C953.9,49.0 954.7,48.3 955.8,48.1C957.0,47.9 958.6,48.2 959.8,48.4C961.0,48.5 961.8,48.9 962.8,48.9C963.9,48.9 964.9,48.5 966.0,48.3C967.1,48.1 968.3,47.9 969.4,47.9C970.5,47.8 971.7,47.8 972.8,47.9C973.9,48.0 974.9,48.3 976.0,48.5C977.1,48.8 978.2,49.2 979.3,49.4C980.4,49.6 981.5,49.8 982.6,49.7C983.7,49.7 984.8,49.4 985.9,49.2C987.0,49.0 988.0,48.9 989.1,48.8C990.1,48.6 991.1,48.5 992.1,48.4C993.2,48.4 994.2,48.3 995.3,48.3C996.4,48.4 997.5,48.5 998.6,48.6C999.7,48.7 1000.8,48.8 1001.9,48.9C1003.0,49.0 1004.0,49.1 1005.0,49.2C1006.0,49.3 1007.0,49.4 1008.0,49.6C1009.0,49.7 1010.0,49.7 1011.0,49.9C1012.0,50.1 1013.1,50.3 1014.0,50.8C1014.9,51.2 1015.9,51.7 1016.6,52.4C1017.3,53.1 1017.9,54.1 1018.3,55.1C1018.7,56.0 1018.8,57.0 1018.9,58.0C1019.1,59.0 1019.3,60.0 1019.4,61.0C1019.5,62.0 1019.7,63.0 1019.8,64.0C1020.0,65.0 1020.1,66.0 1020.2,67.0C1020.4,68.0 1020.5,69.0 1020.6,70.0C1020.7,71.0 1020.8,72.0 1020.9,73.0C1021.0,74.0 1021.2,75.0 1021.3,76.0C1021.4,77.0 1021.5,78.0 1021.6,79.0C1021.7,80.0 1021.8,81.0 1022.0,82.0C1022.1,83.0 1022.2,84.0 1022.3,85.0C1022.4,86.0 1022.5,87.0 1022.6,88.0C1022.7,89.0 1022.9,90.0 1022.9,91.0C1023.0,92.0 1023.1,93.0 1023.1,94.0C1023.2,95.0 1023.2,96.0 1023.3,97.1C1023.4,98.1 1023.4,99.1 1023.5,100.1C1023.5,101.1 1023.6,102.1 1023.7,103.1C1023.7,104.1 1023.8,105.1 1023.8,106.1C1023.9,107.1 1024.0,108.1 1024.0,109.1C1024.1,110.1 1024.1,111.2 1024.2,112.2C1024.3,113.2 1024.3,114.2 1024.4,115.2C1024.4,116.2 1024.5,117.2 1024.6,118.2C1024.6,119.2 1024.7,120.2 1024.7,121.2C1024.8,122.2 1024.9,123.2 1024.9,124.2C1025.0,125.3 1025.1,126.3 1025.1,127.3C1025.2,128.3 1025.2,129.3 1025.3,130.3C1025.4,131.3 1025.4,132.3 1025.5,133.3C1025.5,134.3 1025.6,135.3 1025.6,136.3C1025.6,137.3 1025.7,138.4 1025.7,139.4C1025.8,140.4 1025.8,141.4 1025.9,142.4C1025.9,143.4 1026.0,144.4 1026.0,145.4C1026.1,146.4 1026.1,147.4 1026.1,148.4C1026.2,149.4 1026.2,150.4 1026.3,151.4C1026.3,152.5 1026.4,153.5 1026.4,154.5C1026.5,155.5 1026.5,156.5 1026.6,157.5C1026.6,158.5 1026.7,159.5 1026.7,160.5C1026.7,161.5 1026.8,162.5 1026.8,163.5C1026.9,164.5 1026.9,165.5 1027.0,166.6C1027.0,167.6 1027.1,168.6 1027.1,169.6C1027.2,170.6 1027.2,171.6 1027.3,172.6C1027.3,173.6 1027.3,174.6 1027.4,175.6C1027.4,176.6 1027.4,177.6 1027.5,178.6C1027.5,179.7 1027.5,180.7 1027.6,181.7C1027.6,182.7 1027.7,183.7 1027.7,184.7C1027.7,185.7 1027.8,186.7 1027.8,187.7C1027.8,188.7 1027.9,189.7 1027.9,190.7C1027.9,191.7 1028.0,192.7 1028.0,193.8C1028.0,194.8 1028.1,195.8 1028.1,196.8C1028.1,197.8 1028.2,198.8 1028.2,199.8C1028.2,200.8 1028.3,201.8 1028.3,202.8C1028.3,203.8 1028.4,204.8 1028.4,205.8C1028.4,206.8 1028.5,207.9 1028.5,208.9C1028.5,209.9 1028.6,210.9 1028.6,211.9C1028.6,212.9 1028.7,213.9 1028.7,214.9C1028.7,215.9 1028.8,216.9 1028.8,217.9C1028.8,218.9 1028.9,219.9 1028.9,221.0C1028.9,222.0 1028.9,223.0 1029.0,224.0C1029.0,225.0 1029.0,226.0 1029.0,227.0C1029.1,228.0 1029.1,229.0 1029.1,230.0C1029.1,231.0 1029.2,232.0 1029.2,233.0C1029.2,234.0 1029.2,235.1 1029.3,236.1C1029.3,237.1 1029.3,238.1 1029.3,239.1C1029.4,240.1 1029.4,241.1 1029.4,242.1C1029.5,243.1 1029.5,244.1 1029.5,245.1C1029.5,246.1 1029.6,247.1 1029.6,248.2C1029.6,249.2 1029.6,250.2 1029.7,251.2C1029.7,252.2 1029.7,253.2 1029.7,254.2C1029.8,255.2 1029.8,256.2 1029.8,257.2C1029.8,258.2 1029.9,259.2 1029.9,260.2C1029.9,261.2 1029.9,262.3 1029.9,263.3C1030.0,264.3 1030.0,265.3 1030.0,266.3C1030.0,267.3 1030.0,268.3 1030.1,269.3C1030.1,270.3 1030.1,271.3 1030.1,272.3C1030.1,273.3 1030.2,274.3 1030.2,275.3C1030.2,276.4 1030.2,277.4 1030.2,278.4C1030.3,279.4 1030.3,280.4 1030.3,281.4C1030.3,282.4 1030.3,283.4 1030.4,284.4C1030.4,285.4 1030.4,286.4 1030.4,287.4C1030.4,288.4 1030.5,289.5 1030.5,290.5C1030.5,291.5 1030.5,292.5 1030.5,293.5C1030.6,294.5 1030.6,295.5 1030.6,296.5C1030.6,297.5 1030.6,298.5 1030.7,299.5C1030.7,300.5 1030.7,301.5 1030.7,302.5C1030.7,303.6 1030.8,304.6 1030.8,305.6C1030.8,306.6 1030.8,307.6 1030.8,308.6C1030.8,309.6 1030.9,310.6 1030.9,311.6C1030.9,312.6 1030.9,313.6 1030.9,314.6C1030.9,315.6 1031.0,316.6 1031.0,317.7C1031.0,318.7 1031.0,319.7 1031.0,320.7C1031.0,321.7 1031.1,322.7 1031.1,323.7C1031.1,324.7 1031.1,325.7 1031.1,326.7C1031.2,327.7 1031.2,328.7 1031.2,329.7C1031.2,330.8 1031.2,331.8 1031.2,332.8C1031.3,333.8 1031.3,334.8 1031.3,335.8C1031.3,336.8 1031.3,337.8 1031.3,338.8C1031.4,339.8 1031.4,340.8 1031.4,341.8C1031.4,342.8 1031.4,343.8 1031.4,344.9C1031.5,345.9 1031.5,346.9 1031.5,347.9C1031.5,348.9 1031.5,349.9 1031.6,350.9C1031.6,351.9 1031.6,352.9 1031.6,353.9C1031.6,354.9 1031.6,355.9 1031.7,356.9C1031.7,357.9 1031.7,359.0 1031.7,360.0C1031.7,361.0 1031.7,362.0 1031.8,363.0C1031.8,364.0 1031.8,365.0 1031.8,366.0C1031.8,367.0 1031.8,368.0 1031.9,369.0C1031.9,370.0 1031.9,371.0 1031.9,372.1C1031.9,373.1 1032.0,374.1 1032.0,375.1C1032.0,376.1 1032.0,377.1 1032.0,378.1C1032.0,379.1 1032.1,380.1 1032.1,381.1C1032.1,382.1 1032.1,383.1 1032.1,384.1C1032.1,385.1 1032.2,386.2 1032.2,387.2C1032.2,388.2 1032.2,389.2 1032.2,390.2C1032.3,391.2 1032.3,392.2 1032.3,393.2C1032.3,394.2 1032.4,395.2 1032.4,396.2C1032.4,397.2 1032.4,398.2 1032.4,399.2C1032.5,400.3 1032.5,401.3 1032.5,402.3C1032.5,403.3 1032.5,404.3 1032.6,405.3C1032.6,406.3 1032.6,407.3 1032.6,408.3C1032.6,409.3 1032.7,410.3 1032.7,411.3C1032.7,412.3 1032.7,413.4 1032.7,414.4C1032.8,415.4 1032.8,416.4 1032.8,417.4C1032.8,418.4 1032.8,419.4 1032.9,420.4C1032.9,421.4 1032.9,422.4 1032.9,423.4C1033.0,424.4 1033.0,425.4 1033.0,426.4C1033.0,427.5 1033.0,428.5 1033.1,429.5C1033.1,430.5 1033.1,431.5 1033.1,432.5C1033.2,433.5 1033.2,434.5 1033.2,435.5C1033.2,436.5 1033.3,437.5 1033.3,438.5C1033.3,439.5 1033.4,440.5 1033.4,441.6C1033.4,442.6 1033.4,443.6 1033.5,444.6C1033.5,445.6 1033.5,446.6 1033.5,447.6C1033.6,448.6 1033.6,449.6 1033.6,450.6C1033.7,451.6 1033.7,452.6 1033.7,453.6C1033.7,454.7 1033.8,455.7 1033.8,456.7C1033.8,457.7 1033.8,458.7 1033.9,459.7C1033.9,460.7 1033.9,461.7 1033.9,462.7C1034.0,463.7 1034.0,464.7 1034.0,465.7C1034.1,466.7 1034.1,467.7 1034.1,468.8C1034.1,469.8 1034.2,470.8 1034.2,471.8C1034.2,472.8 1034.3,473.8 1034.3,474.8C1034.3,475.8 1034.4,476.8 1034.4,477.8C1034.4,478.8 1034.5,479.8 1034.5,480.8C1034.6,481.8 1034.6,482.9 1034.6,483.9C1034.7,484.9 1034.7,485.9 1034.7,486.9C1034.8,487.9 1034.8,488.9 1034.8,489.9C1034.9,490.9 1034.9,491.9 1035.0,492.9C1035.0,493.9 1035.0,494.9 1035.1,496.0C1035.1,497.0 1035.1,498.0 1035.2,499.0C1035.2,500.0 1035.2,501.0 1035.3,502.0C1035.3,503.0 1035.3,504.0 1035.4,505.0C1035.4,506.0 1035.5,507.0 1035.5,508.0C1035.5,509.0 1035.6,510.1 1035.6,511.1C1035.6,512.1 1035.7,513.1 1035.7,514.1C1035.8,515.1 1035.8,516.1 1035.9,517.1C1035.9,518.1 1036.0,519.1 1036.0,520.1C1036.1,521.1 1036.1,522.1 1036.2,523.2C1036.2,524.2 1036.2,525.2 1036.3,526.2C1036.3,527.2 1036.4,528.2 1036.4,529.2C1036.5,530.2 1036.5,531.2 1036.6,532.2C1036.6,533.2 1036.7,534.2 1036.7,535.2C1036.8,536.2 1036.8,537.3 1036.9,538.3C1036.9,539.3 1037.0,540.3 1037.0,541.3C1037.1,542.3 1037.1,543.3 1037.2,544.3C1037.2,545.3 1037.3,546.3 1037.3,547.3C1037.4,548.3 1037.4,549.3 1037.4,550.3C1037.5,551.4 1037.5,552.4 1037.6,553.4C1037.6,554.4 1037.7,555.4 1037.8,556.4C1037.8,557.4 1037.9,558.4 1037.9,559.4C1038.0,560.4 1038.1,561.4 1038.1,562.4C1038.2,563.4 1038.3,564.5 1038.3,565.5C1038.4,566.5 1038.4,567.5 1038.5,568.5C1038.6,569.5 1038.6,570.5 1038.7,571.5C1038.8,572.5 1038.8,573.5 1038.9,574.5C1039.0,575.5 1039.0,576.5 1039.1,577.5C1039.1,578.6 1039.2,579.6 1039.3,580.6C1039.3,581.6 1039.4,582.6 1039.5,583.6C1039.5,584.6 1039.6,585.6 1039.6,586.6C1039.7,587.6 1039.8,588.6 1039.8,589.6C1039.9,590.6 1040.0,591.6 1040.0,592.7C1040.1,593.7 1040.1,594.7 1040.2,595.7C1040.3,596.7 1040.3,597.7 1040.4,598.7C1040.5,599.7 1040.6,600.7 1040.7,601.7C1040.7,602.7 1040.8,603.7 1040.9,604.7C1041.0,605.8 1041.1,606.8 1041.1,607.8C1041.2,608.8 1041.3,609.8 1041.4,610.8C1041.5,611.8 1041.6,612.8 1041.6,613.8C1041.7,614.8 1041.8,615.8 1041.9,616.8C1042.0,617.8 1042.0,618.8 1042.1,619.9C1042.2,620.9 1042.3,621.9 1042.4,622.9C1042.4,623.9 1042.5,624.9 1042.6,625.9C1042.7,626.9 1042.8,627.9 1042.9,628.9C1042.9,629.9 1043.0,630.9 1043.1,631.9C1043.2,632.9 1043.3,634.0 1043.3,635.0C1043.4,636.0 1043.5,637.0 1043.6,638.0C1043.7,639.0 1043.8,640.0 1044.0,641.0C1044.2,642.0 1044.4,643.0 1044.6,644.0C1044.9,645.0 1045.1,646.0 1045.3,647.0C1045.6,648.0 1045.8,649.0 1046.0,650.0C1046.3,651.0 1046.6,652.0 1046.9,653.0C1047.1,654.0 1047.4,655.0 1047.7,656.0C1048.1,657.0 1048.4,658.0 1048.8,659.0C1049.2,660.0 1049.6,661.0 1050.2,661.9C1050.7,662.8 1051.3,663.7 1052.3,664.3C1053.3,664.9 1054.9,665.3 1056.0,665.5C1057.1,665.6 1058.0,665.5 1059.0,665.0C1060.0,664.6 1061.2,663.5 1062.0,662.7C1062.7,661.8 1063.0,660.8 1063.5,659.9C1064.0,659.0 1064.4,658.1 1064.8,657.2C1065.3,656.2 1065.7,655.3 1066.1,654.4C1066.5,653.5 1066.9,652.6 1067.3,651.7C1067.8,650.7 1068.1,649.9 1068.6,648.9C1069.0,648.0 1069.5,647.0 1070.0,646.0C1070.5,645.0 1070.9,643.9 1071.5,643.0C1072.1,642.1 1072.7,640.8 1073.6,640.5C1074.4,640.2 1075.8,640.6 1076.7,641.2C1077.5,641.8 1077.9,643.0 1078.5,644.0C1079.0,645.0 1079.5,646.0 1080.0,647.0C1080.4,647.9 1080.9,648.9 1081.3,649.8C1081.7,650.7 1082.1,651.6 1082.6,652.6C1083.0,653.5 1083.5,654.4 1084.0,655.3C1084.5,656.3 1085.0,657.1 1085.5,658.1C1086.0,659.0 1086.5,660.0 1087.0,661.0C1087.5,662.0 1088.0,663.1 1088.5,664.0C1089.0,664.9 1089.6,666.1 1089.8,666.6" fill="none" stroke="#000" stroke-width="6.0" stroke-linejoin="miter" stroke-miterlimit="2" stroke-linecap="round"/>
<rect x="150" y="667" width="937" height="3" fill="#000"/>
</g>
<rect x="150" y="670" width="937" height="4" fill="url(#bsh)"/>
<g stroke="#868686" stroke-width="1">
<line x1="137" y1="670.5" x2="150" y2="670.5"/><line x1="141" y1="605.5" x2="150" y2="605.5"/><line x1="137" y1="541.5" x2="150" y2="541.5"/><line x1="141" y1="477.5" x2="150" y2="477.5"/><line x1="137" y1="412.5" x2="150" y2="412.5"/><line x1="141" y1="348.5" x2="150" y2="348.5"/><line x1="137" y1="283.5" x2="150" y2="283.5"/><line x1="141" y1="219.5" x2="150" y2="219.5"/><line x1="137" y1="155.5" x2="150" y2="155.5"/><line x1="141" y1="90.5" x2="150" y2="90.5"/><line x1="137" y1="26.5" x2="150" y2="26.5"/><line x1="150.5" y1="670" x2="150.5" y2="683"/><line x1="228.5" y1="670" x2="228.5" y2="683"/><line x1="306.5" y1="670" x2="306.5" y2="683"/><line x1="384.5" y1="670" x2="384.5" y2="683"/><line x1="462.5" y1="670" x2="462.5" y2="683"/><line x1="540.5" y1="670" x2="540.5" y2="683"/><line x1="618.5" y1="670" x2="618.5" y2="683"/><line x1="696.5" y1="670" x2="696.5" y2="683"/><line x1="774.5" y1="670" x2="774.5" y2="683"/><line x1="852.5" y1="670" x2="852.5" y2="683"/><line x1="930.5" y1="670" x2="930.5" y2="683"/><line x1="1008.5" y1="670" x2="1008.5" y2="683"/><line x1="1086.5" y1="670" x2="1086.5" y2="683"/>
</g>
<g font-size="37" fill="#000">
<text transform="translate(114.3,682.6) scale(0.99,1)" text-anchor="end">0</text><text transform="translate(114.3,553.8) scale(0.99,1)" text-anchor="end">20</text><text transform="translate(114.3,425.0) scale(0.99,1)" text-anchor="end">40</text><text transform="translate(114.3,296.2) scale(0.99,1)" text-anchor="end">60</text><text transform="translate(114.3,167.4) scale(0.99,1)" text-anchor="end">80</text><text transform="translate(114.3,38.6) scale(0.99,1)" text-anchor="end">100</text>
<text transform="translate(165.4,695) rotate(-90) scale(0.99,1)" text-anchor="end">300</text><text transform="translate(321.4,695) rotate(-90) scale(0.99,1)" text-anchor="end">400</text><text transform="translate(477.4,695) rotate(-90) scale(0.99,1)" text-anchor="end">500</text><text transform="translate(633.4,695) rotate(-90) scale(0.99,1)" text-anchor="end">600</text><text transform="translate(789.4,695) rotate(-90) scale(0.99,1)" text-anchor="end">700</text><text transform="translate(945.4,695) rotate(-90) scale(0.99,1)" text-anchor="end">800</text><text transform="translate(1101.4,695) rotate(-90) scale(0.99,1)" text-anchor="end">900</text>
</g>
<g font-weight="bold" font-size="44" fill="#000">
<text transform="translate(47,511.5) rotate(-90)" x="0" y="0" textLength="325" lengthAdjust="spacingAndGlyphs">Transmission (%)</text>
<text x="479.5" y="809.8" textLength="334.5" lengthAdjust="spacingAndGlyphs">Wavelength (nm)</text>
</g>
</svg>
</body></html>
